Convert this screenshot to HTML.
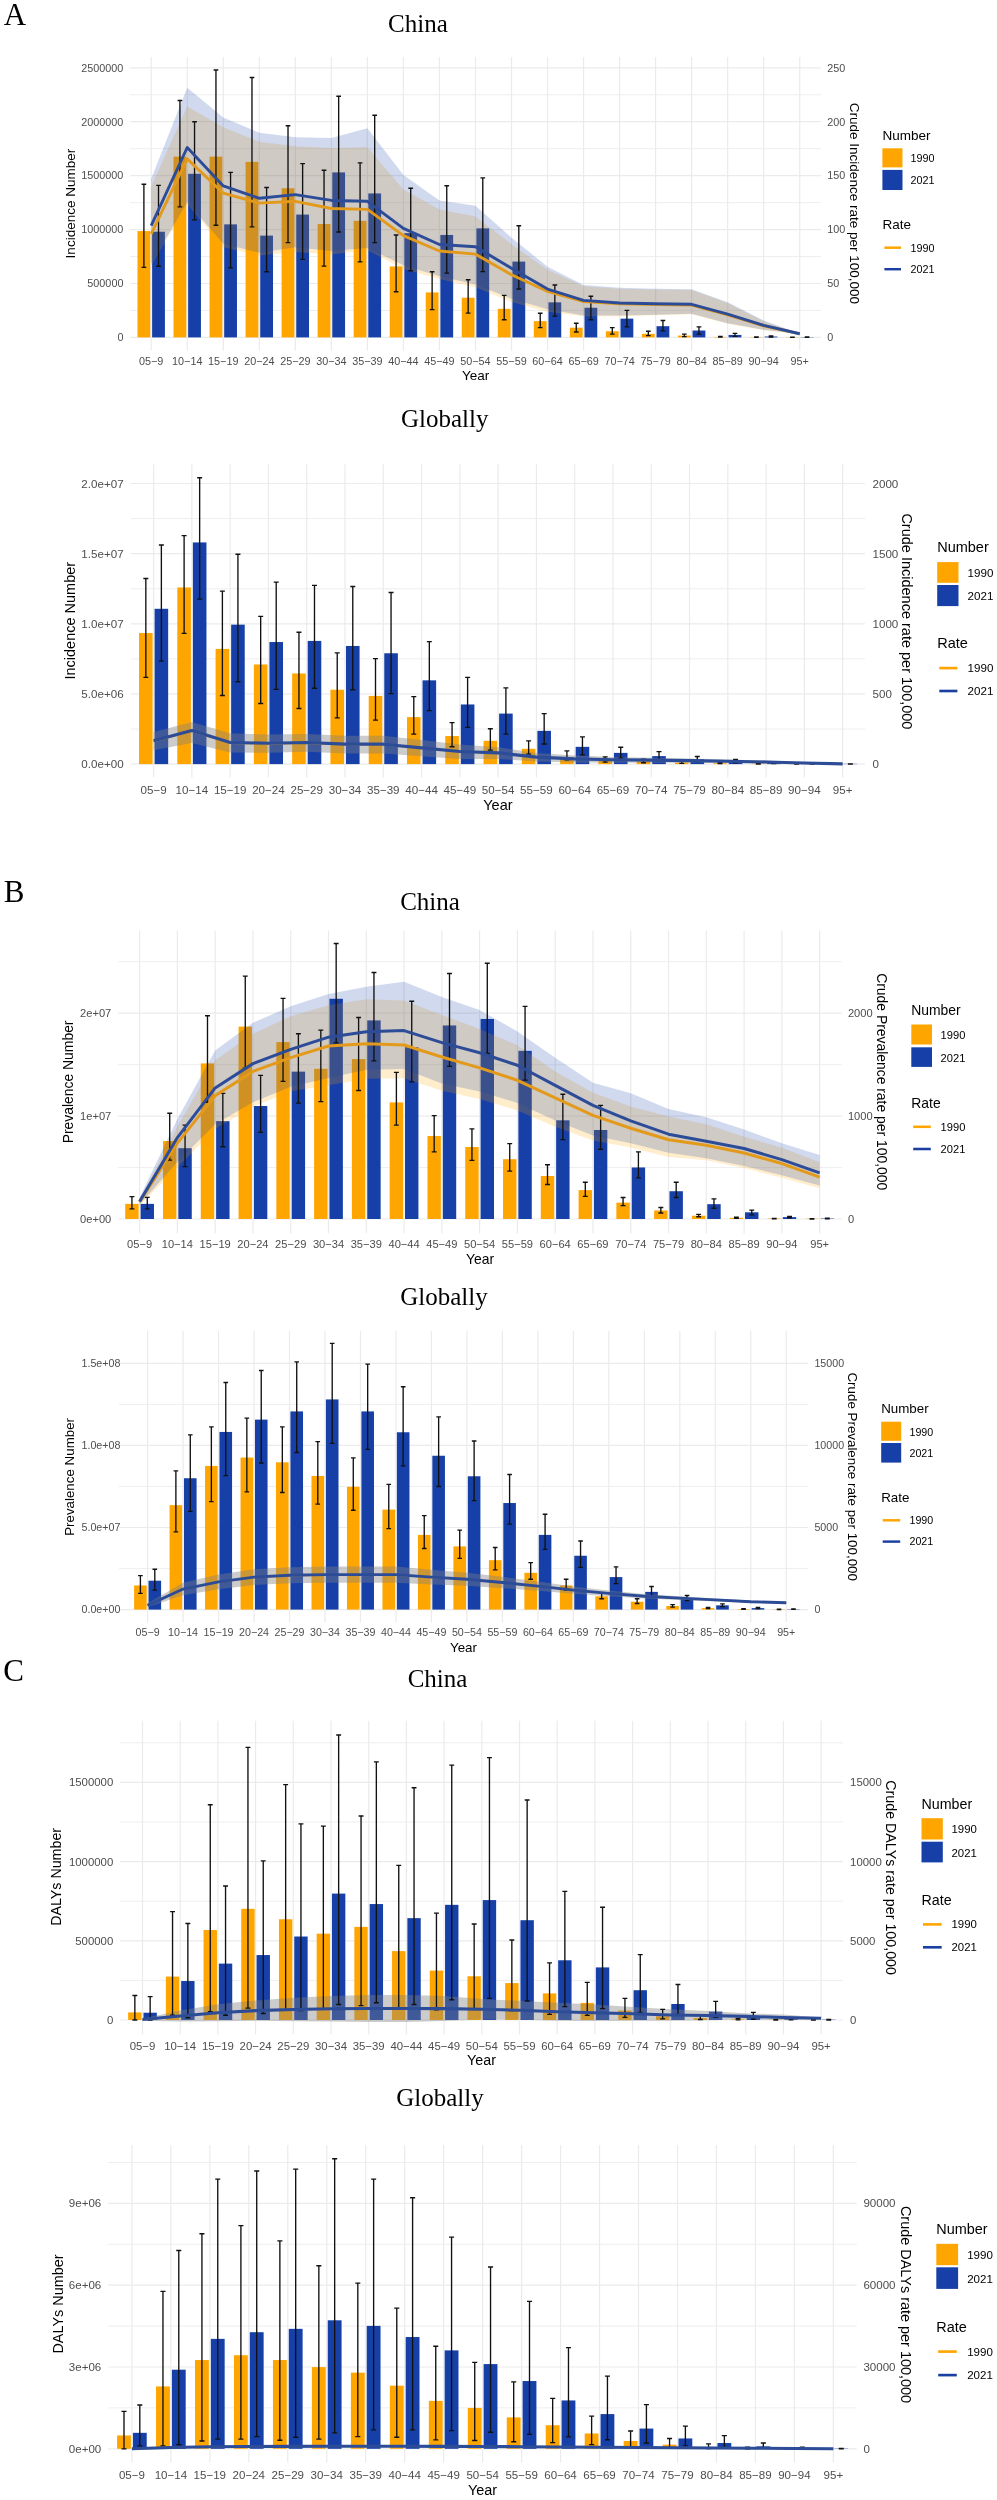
<!DOCTYPE html>
<html><head><meta charset="utf-8"><title>Figure</title>
<style>html,body{margin:0;padding:0;background:#fff;width:997px;height:2500px;overflow:hidden}
svg text{font-family:"Liberation Sans", sans-serif}
svg{filter:blur(0.3px)}</style></head>
<body>
<svg width="997" height="2500" viewBox="0 0 997 2500" style="display:block">
<rect width="997" height="2500" fill="#fff"/>
<g><line x1="130" y1="310.44" x2="821" y2="310.44" stroke="#EBEBEB" stroke-width="0.85"/>
<line x1="130" y1="256.52" x2="821" y2="256.52" stroke="#EBEBEB" stroke-width="0.85"/>
<line x1="130" y1="202.6" x2="821" y2="202.6" stroke="#EBEBEB" stroke-width="0.85"/>
<line x1="130" y1="148.68" x2="821" y2="148.68" stroke="#EBEBEB" stroke-width="0.85"/>
<line x1="130" y1="94.76" x2="821" y2="94.76" stroke="#EBEBEB" stroke-width="0.85"/>
<line x1="130" y1="337.4" x2="821" y2="337.4" stroke="#EBEBEB" stroke-width="1.2"/>
<line x1="130" y1="283.48" x2="821" y2="283.48" stroke="#EBEBEB" stroke-width="1.2"/>
<line x1="130" y1="229.56" x2="821" y2="229.56" stroke="#EBEBEB" stroke-width="1.2"/>
<line x1="130" y1="175.64" x2="821" y2="175.64" stroke="#EBEBEB" stroke-width="1.2"/>
<line x1="130" y1="121.72" x2="821" y2="121.72" stroke="#EBEBEB" stroke-width="1.2"/>
<line x1="130" y1="67.8" x2="821" y2="67.8" stroke="#EBEBEB" stroke-width="1.2"/>
<line x1="151.2" y1="57" x2="151.2" y2="350.5" stroke="#EBEBEB" stroke-width="1.2"/>
<line x1="187.23" y1="57" x2="187.23" y2="350.5" stroke="#EBEBEB" stroke-width="1.2"/>
<line x1="223.26" y1="57" x2="223.26" y2="350.5" stroke="#EBEBEB" stroke-width="1.2"/>
<line x1="259.29" y1="57" x2="259.29" y2="350.5" stroke="#EBEBEB" stroke-width="1.2"/>
<line x1="295.32" y1="57" x2="295.32" y2="350.5" stroke="#EBEBEB" stroke-width="1.2"/>
<line x1="331.35" y1="57" x2="331.35" y2="350.5" stroke="#EBEBEB" stroke-width="1.2"/>
<line x1="367.38" y1="57" x2="367.38" y2="350.5" stroke="#EBEBEB" stroke-width="1.2"/>
<line x1="403.41" y1="57" x2="403.41" y2="350.5" stroke="#EBEBEB" stroke-width="1.2"/>
<line x1="439.44" y1="57" x2="439.44" y2="350.5" stroke="#EBEBEB" stroke-width="1.2"/>
<line x1="475.47" y1="57" x2="475.47" y2="350.5" stroke="#EBEBEB" stroke-width="1.2"/>
<line x1="511.5" y1="57" x2="511.5" y2="350.5" stroke="#EBEBEB" stroke-width="1.2"/>
<line x1="547.53" y1="57" x2="547.53" y2="350.5" stroke="#EBEBEB" stroke-width="1.2"/>
<line x1="583.56" y1="57" x2="583.56" y2="350.5" stroke="#EBEBEB" stroke-width="1.2"/>
<line x1="619.59" y1="57" x2="619.59" y2="350.5" stroke="#EBEBEB" stroke-width="1.2"/>
<line x1="655.62" y1="57" x2="655.62" y2="350.5" stroke="#EBEBEB" stroke-width="1.2"/>
<line x1="691.65" y1="57" x2="691.65" y2="350.5" stroke="#EBEBEB" stroke-width="1.2"/>
<line x1="727.68" y1="57" x2="727.68" y2="350.5" stroke="#EBEBEB" stroke-width="1.2"/>
<line x1="763.71" y1="57" x2="763.71" y2="350.5" stroke="#EBEBEB" stroke-width="1.2"/>
<line x1="799.74" y1="57" x2="799.74" y2="350.5" stroke="#EBEBEB" stroke-width="1.2"/>
<rect x="137.49" y="231.07" width="12.79" height="106.33" fill="#FFA500"/>
<rect x="152.12" y="231.72" width="12.79" height="105.68" fill="#1640A8"/>
<rect x="173.52" y="156.66" width="12.79" height="180.74" fill="#FFA500"/>
<rect x="188.15" y="173.81" width="12.79" height="163.59" fill="#1640A8"/>
<rect x="209.55" y="156.66" width="12.79" height="180.74" fill="#FFA500"/>
<rect x="224.18" y="224.38" width="12.79" height="113.02" fill="#1640A8"/>
<rect x="245.58" y="161.84" width="12.79" height="175.56" fill="#FFA500"/>
<rect x="260.21" y="235.6" width="12.79" height="101.8" fill="#1640A8"/>
<rect x="281.61" y="188.26" width="12.79" height="149.14" fill="#FFA500"/>
<rect x="296.24" y="214.57" width="12.79" height="122.83" fill="#1640A8"/>
<rect x="317.64" y="224.06" width="12.79" height="113.34" fill="#FFA500"/>
<rect x="332.27" y="172.4" width="12.79" height="165" fill="#1640A8"/>
<rect x="353.67" y="220.82" width="12.79" height="116.58" fill="#FFA500"/>
<rect x="368.3" y="193.43" width="12.79" height="143.97" fill="#1640A8"/>
<rect x="389.7" y="266.44" width="12.79" height="70.96" fill="#FFA500"/>
<rect x="404.33" y="233.12" width="12.79" height="104.28" fill="#1640A8"/>
<rect x="425.73" y="292.43" width="12.79" height="44.97" fill="#FFA500"/>
<rect x="440.36" y="234.95" width="12.79" height="102.45" fill="#1640A8"/>
<rect x="461.76" y="297.71" width="12.79" height="39.69" fill="#FFA500"/>
<rect x="476.39" y="228.37" width="12.79" height="109.03" fill="#1640A8"/>
<rect x="497.79" y="308.82" width="12.79" height="28.58" fill="#FFA500"/>
<rect x="512.42" y="261.59" width="12.79" height="75.81" fill="#1640A8"/>
<rect x="533.82" y="321.12" width="12.79" height="16.28" fill="#FFA500"/>
<rect x="548.45" y="302.35" width="12.79" height="35.05" fill="#1640A8"/>
<rect x="569.85" y="327.69" width="12.79" height="9.71" fill="#FFA500"/>
<rect x="584.48" y="307.74" width="12.79" height="29.66" fill="#1640A8"/>
<rect x="605.88" y="331.25" width="12.79" height="6.15" fill="#FFA500"/>
<rect x="620.51" y="318.64" width="12.79" height="18.76" fill="#1640A8"/>
<rect x="641.91" y="333.84" width="12.79" height="3.56" fill="#FFA500"/>
<rect x="656.54" y="326.18" width="12.79" height="11.22" fill="#1640A8"/>
<rect x="677.94" y="335.57" width="12.79" height="1.83" fill="#FFA500"/>
<rect x="692.57" y="330.5" width="12.79" height="6.9" fill="#1640A8"/>
<rect x="713.97" y="336.97" width="12.79" height="0.43" fill="#FFA500"/>
<rect x="728.6" y="334.92" width="12.79" height="2.48" fill="#1640A8"/>
<rect x="750" y="337.1" width="12.79" height="0.3" fill="#FFA500"/>
<rect x="764.63" y="336.54" width="12.79" height="0.86" fill="#1640A8"/>
<rect x="786.03" y="337.1" width="12.79" height="0.3" fill="#FFA500"/>
<rect x="800.66" y="337.1" width="12.79" height="0.3" fill="#1640A8"/>
<path d="M151.2,186.42 L187.23,106.51 L223.26,127.33 L259.29,141.67 L295.32,146.31 L331.35,148.03 L367.38,147.17 L403.41,189.55 L439.44,209.39 L475.47,216.62 L511.5,244.23 L547.53,269.78 L583.56,286.18 L619.59,288.87 L655.62,289.41 L691.65,289.95 L727.68,303.11 L763.71,321.22 L799.74,333.73 L799.74,334.06 L763.71,330.17 L727.68,323.7 L691.65,314.21 L655.62,315.29 L619.59,316.16 L583.56,316.37 L547.53,311.63 L511.5,301.92 L475.47,287.15 L439.44,278.95 L403.41,269.03 L367.38,250.05 L331.35,254.58 L295.32,251.88 L259.29,255.55 L223.26,247.35 L187.23,204 L151.2,265.47Z" fill="#FFA500" fill-opacity="0.2"/>
<path d="M151.2,178.77 L187.23,87.64 L223.26,117.41 L259.29,132.72 L295.32,137.25 L331.35,138.11 L367.38,128.19 L403.41,175.1 L439.44,200.44 L475.47,205.84 L511.5,237.65 L547.53,266.66 L583.56,285.1 L619.59,287.79 L655.62,288.66 L691.65,289.2 L727.68,302.24 L763.71,320.47 L799.74,333.52 L799.74,333.95 L763.71,329.85 L727.68,323.27 L691.65,313.68 L655.62,314.75 L619.59,315.51 L583.56,315.51 L547.53,309.15 L511.5,298.69 L475.47,284.45 L439.44,276.15 L403.41,265.36 L367.38,247.89 L331.35,251.02 L295.32,247.35 L259.29,252.85 L223.26,243.79 L187.23,202.17 L151.2,263.64Z" fill="#1640A8" fill-opacity="0.2"/>
<path d="M143.89,184.27V267.3M141.54,184.27H146.23M141.54,267.3H146.23M158.51,185.35V266.23M156.17,185.35H160.86M156.17,266.23H160.86M179.92,100.48V206.91M177.57,100.48H182.26M177.57,206.91H182.26M194.54,121.72V219.85M192.2,121.72H196.89M192.2,219.85H196.89M215.95,69.96V225.25M213.6,69.96H218.29M213.6,225.25H218.29M230.57,172.4V267.84M228.23,172.4H232.92M228.23,267.84H232.92M251.98,77.51V226.86M249.63,77.51H254.32M249.63,226.86H254.32M266.6,187.5V271.73M264.26,187.5H268.95M264.26,271.73H268.95M288.01,125.71V242.61M285.66,125.71H290.35M285.66,242.61H290.35M302.63,163.67V259.43M300.29,163.67H304.98M300.29,259.43H304.98M324.04,170.25V266.12M321.69,170.25H326.38M321.69,266.12H326.38M338.66,96.27V232.04M336.32,96.27H341.01M336.32,232.04H341.01M360.07,162.91V261.91M357.72,162.91H362.41M357.72,261.91H362.41M374.69,115.25V242.61M372.35,115.25H377.04M372.35,242.61H377.04M396.1,234.95V291.78M393.75,234.95H398.44M393.75,291.78H398.44M410.72,188.26V270.75M408.38,188.26H413.07M408.38,270.75H413.07M432.13,271.73V309.69M429.78,271.73H434.47M429.78,309.69H434.47M446.75,185.78V273.13M444.41,185.78H449.1M444.41,273.13H449.1M468.16,279.71V313.14M465.81,279.71H470.5M465.81,313.14H470.5M482.78,177.8V271.62M480.44,177.8H485.13M480.44,271.62H485.13M504.19,295.34V319.71M501.84,295.34H506.53M501.84,319.71H506.53M518.81,225.79V288.98M516.47,225.79H521.16M516.47,288.98H521.16M540.22,313.24V327.69M537.87,313.24H542.56M537.87,327.69H542.56M554.84,284.99V316.05M552.5,284.99H557.19M552.5,316.05H557.19M576.25,323.27V332.01M573.9,323.27H578.59M573.9,332.01H578.59M590.87,296.21V319.71M588.53,296.21H593.22M588.53,319.71H593.22M612.28,327.69V334.16M609.93,327.69H614.62M609.93,334.16H614.62M626.9,310.33V326.94M624.56,310.33H629.25M624.56,326.94H629.25M648.31,331.25V335.57M645.96,331.25H650.65M645.96,335.57H650.65M662.93,320.47V330.93M660.59,320.47H665.28M660.59,330.93H665.28M684.34,334.16V336.65M681.99,334.16H686.68M681.99,336.65H686.68M698.96,326.94V334.16M696.62,326.94H701.31M696.62,334.16H701.31M720.37,336.54V337.18M718.02,336.54H722.71M718.02,337.18H722.71M734.99,333.41V336.32M732.65,333.41H737.34M732.65,336.32H737.34M756.4,336.97V337.29M754.05,336.97H758.74M754.05,337.29H758.74M771.02,335.89V336.97M768.68,335.89H773.37M768.68,336.97H773.37M792.43,337.18V337.35M790.08,337.18H794.77M790.08,337.35H794.77M807.05,336.97V337.29M804.71,336.97H809.4M804.71,337.29H809.4" stroke="#111" stroke-width="1.35" fill="none"/>
<path d="M151.2,233.77 L187.23,158.92 L223.26,193.22 L259.29,203.14 L295.32,201.31 L331.35,208.53 L367.38,209.39 L403.41,235.6 L439.44,251.02 L475.47,254.15 L511.5,274.74 L547.53,291.46 L583.56,301.49 L619.59,303.86 L655.62,304.51 L691.65,305.05 L727.68,314.75 L763.71,325.75 L799.74,333.84" stroke="#E39A1B" stroke-width="2.9" fill="none" stroke-linejoin="round"/>
<path d="M151.2,225.68 L187.23,147.49 L223.26,185.99 L259.29,198.29 L295.32,194.62 L331.35,200.44 L367.38,201.31 L403.41,228.37 L439.44,244.55 L475.47,246.81 L511.5,268.17 L547.53,289.09 L583.56,300.41 L619.59,303 L655.62,303.75 L691.65,304.29 L727.68,314.21 L763.71,325.43 L799.74,333.73" stroke="#2D4C98" stroke-width="2.9" fill="none" stroke-linejoin="round"/>
<text x="123.4" y="341.23" text-anchor="end" font-size="10.8" fill="#4D4D4D">0</text>
<text x="827.2" y="341.23" font-size="10.8" fill="#4D4D4D">0</text>
<text x="123.4" y="287.31" text-anchor="end" font-size="10.8" fill="#4D4D4D">500000</text>
<text x="827.2" y="287.31" font-size="10.8" fill="#4D4D4D">50</text>
<text x="123.4" y="233.39" text-anchor="end" font-size="10.8" fill="#4D4D4D">1000000</text>
<text x="827.2" y="233.39" font-size="10.8" fill="#4D4D4D">100</text>
<text x="123.4" y="179.47" text-anchor="end" font-size="10.8" fill="#4D4D4D">1500000</text>
<text x="827.2" y="179.47" font-size="10.8" fill="#4D4D4D">150</text>
<text x="123.4" y="125.55" text-anchor="end" font-size="10.8" fill="#4D4D4D">2000000</text>
<text x="827.2" y="125.55" font-size="10.8" fill="#4D4D4D">200</text>
<text x="123.4" y="71.63" text-anchor="end" font-size="10.8" fill="#4D4D4D">2500000</text>
<text x="827.2" y="71.63" font-size="10.8" fill="#4D4D4D">250</text>
<text x="151.2" y="365.03" text-anchor="middle" font-size="10.8" fill="#4D4D4D">05−9</text>
<text x="187.23" y="365.03" text-anchor="middle" font-size="10.8" fill="#4D4D4D">10−14</text>
<text x="223.26" y="365.03" text-anchor="middle" font-size="10.8" fill="#4D4D4D">15−19</text>
<text x="259.29" y="365.03" text-anchor="middle" font-size="10.8" fill="#4D4D4D">20−24</text>
<text x="295.32" y="365.03" text-anchor="middle" font-size="10.8" fill="#4D4D4D">25−29</text>
<text x="331.35" y="365.03" text-anchor="middle" font-size="10.8" fill="#4D4D4D">30−34</text>
<text x="367.38" y="365.03" text-anchor="middle" font-size="10.8" fill="#4D4D4D">35−39</text>
<text x="403.41" y="365.03" text-anchor="middle" font-size="10.8" fill="#4D4D4D">40−44</text>
<text x="439.44" y="365.03" text-anchor="middle" font-size="10.8" fill="#4D4D4D">45−49</text>
<text x="475.47" y="365.03" text-anchor="middle" font-size="10.8" fill="#4D4D4D">50−54</text>
<text x="511.5" y="365.03" text-anchor="middle" font-size="10.8" fill="#4D4D4D">55−59</text>
<text x="547.53" y="365.03" text-anchor="middle" font-size="10.8" fill="#4D4D4D">60−64</text>
<text x="583.56" y="365.03" text-anchor="middle" font-size="10.8" fill="#4D4D4D">65−69</text>
<text x="619.59" y="365.03" text-anchor="middle" font-size="10.8" fill="#4D4D4D">70−74</text>
<text x="655.62" y="365.03" text-anchor="middle" font-size="10.8" fill="#4D4D4D">75−79</text>
<text x="691.65" y="365.03" text-anchor="middle" font-size="10.8" fill="#4D4D4D">80−84</text>
<text x="727.68" y="365.03" text-anchor="middle" font-size="10.8" fill="#4D4D4D">85−89</text>
<text x="763.71" y="365.03" text-anchor="middle" font-size="10.8" fill="#4D4D4D">90−94</text>
<text x="799.74" y="365.03" text-anchor="middle" font-size="10.8" fill="#4D4D4D">95+</text>
<text x="475.6" y="380.29" text-anchor="middle" font-size="13.5" fill="#000">Year</text>
<text transform="translate(74.99,203.6) rotate(-90)" text-anchor="middle" font-size="13.5" fill="#000">Incidence Number</text>
<text transform="translate(849.51,203.4) rotate(90)" text-anchor="middle" font-size="13.5" fill="#000">Crude Incidence rate per 100,000</text>
<text x="388.1" y="31.6" style='font-family:"Liberation Serif", serif' font-size="25" fill="#000">China</text>
<text x="882.4" y="139.59" font-size="13.5" fill="#000">Number</text>
<rect x="882.4" y="148.3" width="20.1" height="19.1" fill="#FFA500"/>
<rect x="882.4" y="169.9" width="20.1" height="20.1" fill="#1640A8"/>
<text x="910.5" y="161.73" font-size="10.8" fill="#000">1990</text>
<text x="910.5" y="183.83" font-size="10.8" fill="#000">2021</text>
<text x="882.4" y="229.19" font-size="13.5" fill="#000">Rate</text>
<line x1="884.4" y1="247.7" x2="901" y2="247.7" stroke="#FFA500" stroke-width="2.46"/>
<line x1="884.4" y1="269.2" x2="901" y2="269.2" stroke="#1A3FA0" stroke-width="2.46"/>
<text x="910.5" y="251.53" font-size="10.8" fill="#000">1990</text>
<text x="910.5" y="273.03" font-size="10.8" fill="#000">2021</text></g>
<g><line x1="130.8" y1="729.02" x2="865" y2="729.02" stroke="#EBEBEB" stroke-width="0.85"/>
<line x1="130.8" y1="658.88" x2="865" y2="658.88" stroke="#EBEBEB" stroke-width="0.85"/>
<line x1="130.8" y1="588.73" x2="865" y2="588.73" stroke="#EBEBEB" stroke-width="0.85"/>
<line x1="130.8" y1="518.58" x2="865" y2="518.58" stroke="#EBEBEB" stroke-width="0.85"/>
<line x1="130.8" y1="764.1" x2="865" y2="764.1" stroke="#EBEBEB" stroke-width="1.2"/>
<line x1="130.8" y1="693.95" x2="865" y2="693.95" stroke="#EBEBEB" stroke-width="1.2"/>
<line x1="130.8" y1="623.8" x2="865" y2="623.8" stroke="#EBEBEB" stroke-width="1.2"/>
<line x1="130.8" y1="553.65" x2="865" y2="553.65" stroke="#EBEBEB" stroke-width="1.2"/>
<line x1="130.8" y1="483.5" x2="865" y2="483.5" stroke="#EBEBEB" stroke-width="1.2"/>
<line x1="153.6" y1="464.2" x2="153.6" y2="777.6" stroke="#EBEBEB" stroke-width="1.2"/>
<line x1="191.88" y1="464.2" x2="191.88" y2="777.6" stroke="#EBEBEB" stroke-width="1.2"/>
<line x1="230.16" y1="464.2" x2="230.16" y2="777.6" stroke="#EBEBEB" stroke-width="1.2"/>
<line x1="268.44" y1="464.2" x2="268.44" y2="777.6" stroke="#EBEBEB" stroke-width="1.2"/>
<line x1="306.72" y1="464.2" x2="306.72" y2="777.6" stroke="#EBEBEB" stroke-width="1.2"/>
<line x1="345" y1="464.2" x2="345" y2="777.6" stroke="#EBEBEB" stroke-width="1.2"/>
<line x1="383.28" y1="464.2" x2="383.28" y2="777.6" stroke="#EBEBEB" stroke-width="1.2"/>
<line x1="421.56" y1="464.2" x2="421.56" y2="777.6" stroke="#EBEBEB" stroke-width="1.2"/>
<line x1="459.84" y1="464.2" x2="459.84" y2="777.6" stroke="#EBEBEB" stroke-width="1.2"/>
<line x1="498.12" y1="464.2" x2="498.12" y2="777.6" stroke="#EBEBEB" stroke-width="1.2"/>
<line x1="536.4" y1="464.2" x2="536.4" y2="777.6" stroke="#EBEBEB" stroke-width="1.2"/>
<line x1="574.68" y1="464.2" x2="574.68" y2="777.6" stroke="#EBEBEB" stroke-width="1.2"/>
<line x1="612.96" y1="464.2" x2="612.96" y2="777.6" stroke="#EBEBEB" stroke-width="1.2"/>
<line x1="651.24" y1="464.2" x2="651.24" y2="777.6" stroke="#EBEBEB" stroke-width="1.2"/>
<line x1="689.52" y1="464.2" x2="689.52" y2="777.6" stroke="#EBEBEB" stroke-width="1.2"/>
<line x1="727.8" y1="464.2" x2="727.8" y2="777.6" stroke="#EBEBEB" stroke-width="1.2"/>
<line x1="766.08" y1="464.2" x2="766.08" y2="777.6" stroke="#EBEBEB" stroke-width="1.2"/>
<line x1="804.36" y1="464.2" x2="804.36" y2="777.6" stroke="#EBEBEB" stroke-width="1.2"/>
<line x1="842.64" y1="464.2" x2="842.64" y2="777.6" stroke="#EBEBEB" stroke-width="1.2"/>
<rect x="139.03" y="633.06" width="13.59" height="131.04" fill="#FFA500"/>
<rect x="154.58" y="608.79" width="13.59" height="155.31" fill="#1640A8"/>
<rect x="177.31" y="587.46" width="13.59" height="176.64" fill="#FFA500"/>
<rect x="192.86" y="542.43" width="13.59" height="221.67" fill="#1640A8"/>
<rect x="215.59" y="648.91" width="13.59" height="115.19" fill="#FFA500"/>
<rect x="231.14" y="624.64" width="13.59" height="139.46" fill="#1640A8"/>
<rect x="253.87" y="664.49" width="13.59" height="99.61" fill="#FFA500"/>
<rect x="269.42" y="642.04" width="13.59" height="122.06" fill="#1640A8"/>
<rect x="292.15" y="673.47" width="13.59" height="90.63" fill="#FFA500"/>
<rect x="307.7" y="640.92" width="13.59" height="123.18" fill="#1640A8"/>
<rect x="330.43" y="689.74" width="13.59" height="74.36" fill="#FFA500"/>
<rect x="345.98" y="645.97" width="13.59" height="118.13" fill="#1640A8"/>
<rect x="368.71" y="695.91" width="13.59" height="68.19" fill="#FFA500"/>
<rect x="384.26" y="653.26" width="13.59" height="110.84" fill="#1640A8"/>
<rect x="406.99" y="717.1" width="13.59" height="47" fill="#FFA500"/>
<rect x="422.54" y="680.34" width="13.59" height="83.76" fill="#1640A8"/>
<rect x="445.27" y="736.04" width="13.59" height="28.06" fill="#FFA500"/>
<rect x="460.82" y="704.47" width="13.59" height="59.63" fill="#1640A8"/>
<rect x="483.55" y="740.81" width="13.59" height="23.29" fill="#FFA500"/>
<rect x="499.1" y="713.59" width="13.59" height="50.51" fill="#1640A8"/>
<rect x="521.83" y="748.81" width="13.59" height="15.29" fill="#FFA500"/>
<rect x="537.38" y="730.85" width="13.59" height="33.25" fill="#1640A8"/>
<rect x="560.11" y="756.94" width="13.59" height="7.16" fill="#FFA500"/>
<rect x="575.66" y="746.84" width="13.59" height="17.26" fill="#1640A8"/>
<rect x="598.39" y="759.75" width="13.59" height="4.35" fill="#FFA500"/>
<rect x="613.94" y="752.88" width="13.59" height="11.22" fill="#1640A8"/>
<rect x="636.67" y="761.29" width="13.59" height="2.81" fill="#FFA500"/>
<rect x="652.22" y="756.1" width="13.59" height="8" fill="#1640A8"/>
<rect x="674.95" y="762.56" width="13.59" height="1.54" fill="#FFA500"/>
<rect x="690.5" y="759.33" width="13.59" height="4.77" fill="#1640A8"/>
<rect x="713.23" y="763.26" width="13.59" height="0.84" fill="#FFA500"/>
<rect x="728.78" y="761.29" width="13.59" height="2.81" fill="#1640A8"/>
<rect x="751.51" y="763.68" width="13.59" height="0.42" fill="#FFA500"/>
<rect x="767.06" y="762.84" width="13.59" height="1.26" fill="#1640A8"/>
<rect x="789.79" y="763.8" width="13.59" height="0.3" fill="#FFA500"/>
<rect x="805.34" y="763.68" width="13.59" height="0.42" fill="#1640A8"/>
<rect x="828.07" y="763.8" width="13.59" height="0.3" fill="#FFA500"/>
<rect x="843.62" y="763.8" width="13.59" height="0.3" fill="#1640A8"/>
<path d="M153.6,731.97 L191.88,722.01 L230.16,733.37 L268.44,734.5 L306.72,734.08 L345,735.76 L383.28,735.76 L421.56,740.11 L459.84,744.46 L498.12,747.26 L536.4,752.88 L574.68,755.4 L612.96,756.94 L651.24,757.65 L689.52,758.49 L727.8,759.61 L766.08,760.59 L804.36,762.14 L842.64,763.54 L842.64,764.1 L804.36,763.86 L766.08,763.48 L727.8,763.09 L689.52,762.84 L651.24,762.85 L612.96,762.73 L574.68,762.62 L536.4,761.57 L498.12,758.94 L459.84,758.99 L421.56,756.19 L383.28,753.39 L345,753.39 L306.72,751.78 L268.44,752.73 L230.16,752.48 L191.88,743.06 L153.6,750.31Z" fill="#808080" fill-opacity="0.4"/>
<path d="M145.83,578.48V677.39M143.34,578.48H148.32M143.34,677.39H148.32M161.37,544.95V661.12M158.88,544.95H163.86M158.88,661.12H163.86M184.11,535.55V633.34M181.62,535.55H186.6M181.62,633.34H186.6M199.65,477.75V599.11M197.16,477.75H202.14M197.16,599.11H202.14M222.39,591.11V695.49M219.9,591.11H224.88M219.9,695.49H224.88M237.93,554.21V681.74M235.44,554.21H240.42M235.44,681.74H240.42M260.67,616.36V703.49M258.18,616.36H263.16M258.18,703.49H263.16M276.21,582.13V689.32M273.72,582.13H278.7M273.72,689.32H278.7M298.95,632.22V708.54M296.46,632.22H301.44M296.46,708.54H301.44M314.49,585.36V688.2M312,585.36H316.98M312,688.2H316.98M337.23,652.84V717.94M334.74,652.84H339.72M334.74,717.94H339.72M352.77,586.48V689.74M350.28,586.48H355.26M350.28,689.74H355.26M375.51,658.59V720.05M373.02,658.59H378M373.02,720.05H378M391.05,592.51V693.67M388.56,592.51H393.54M388.56,693.67H393.54M413.79,696.62V734.08M411.3,696.62H416.28M411.3,734.08H416.28M429.33,641.62V710.65M426.84,641.62H431.82M426.84,710.65H431.82M452.07,722.57V746.7M449.58,722.57H454.56M449.58,746.7H454.56M467.61,677.39V727.34M465.12,677.39H470.1M465.12,727.34H470.1M490.35,728.74V750.07M487.86,728.74H492.84M487.86,750.07H492.84M505.89,687.92V734.08M503.4,687.92H508.38M503.4,734.08H508.38M528.63,740.81V754.14M526.14,740.81H531.12M526.14,754.14H531.12M544.17,713.59V744.04M541.68,713.59H546.66M541.68,744.04H546.66M566.91,750.91V759.75M564.42,750.91H569.4M564.42,759.75H569.4M582.45,736.88V754.84M579.96,736.88H584.94M579.96,754.84H584.94M605.19,756.94V762.14M602.7,756.94H607.68M602.7,762.14H607.68M620.73,747.26V758.07M618.24,747.26H623.22M618.24,758.07H623.22M643.47,759.19V762.7M640.98,759.19H645.96M640.98,762.7H645.96M659.01,751.61V759.75M656.52,751.61H661.5M656.52,759.75H661.5M681.75,761.29V763.4M679.26,761.29H684.24M679.26,763.4H684.24M697.29,756.52V761.57M694.8,756.52H699.78M694.8,761.57H699.78M720.03,762.7V763.68M717.54,762.7H722.52M717.54,763.68H722.52M735.57,759.33V762.7M733.08,759.33H738.06M733.08,762.7H738.06M758.31,763.4V763.96M755.82,763.4H760.8M755.82,763.96H760.8M773.85,762V763.54M771.36,762H776.34M771.36,763.54H776.34M796.59,763.82V764.03M794.1,763.82H799.08M794.1,764.03H799.08M812.13,763.26V763.96M809.64,763.26H814.62M809.64,763.96H814.62M834.87,763.96V764.07M832.38,763.96H837.36M832.38,764.07H837.36M850.41,763.82V764.03M847.92,763.82H852.9M847.92,764.03H852.9" stroke="#111" stroke-width="1.35" fill="none"/>
<path d="M153.6,741.61 L191.88,731.55 L230.16,743.36 L268.44,744.03 L306.72,743.36 L345,744.97 L383.28,744.97 L421.56,748.48 L459.84,751.98 L498.12,753.32 L536.4,757.37 L574.68,759.12 L612.96,759.92 L651.24,760.33 L689.52,760.73 L727.8,761.41 L766.08,762.08 L804.36,763.02 L842.64,763.83" stroke="#E39A1B" stroke-width="1.2" fill="none" stroke-linejoin="round"/>
<path d="M153.6,740.67 L191.88,730.57 L230.16,742.49 L268.44,743.2 L306.72,742.49 L345,744.18 L383.28,744.18 L421.56,747.83 L459.84,751.47 L498.12,752.88 L536.4,757.09 L574.68,758.91 L612.96,759.75 L651.24,760.17 L689.52,760.59 L727.8,761.29 L766.08,762 L804.36,762.98 L842.64,763.82" stroke="#2D4C98" stroke-width="3.1148148148148147" fill="none" stroke-linejoin="round"/>
<text x="123.6" y="768.22" text-anchor="end" font-size="11.6" fill="#4D4D4D">0.0e+00</text>
<text x="872.5" y="768.22" font-size="11.6" fill="#4D4D4D">0</text>
<text x="123.6" y="698.07" text-anchor="end" font-size="11.6" fill="#4D4D4D">5.0e+06</text>
<text x="872.5" y="698.07" font-size="11.6" fill="#4D4D4D">500</text>
<text x="123.6" y="627.92" text-anchor="end" font-size="11.6" fill="#4D4D4D">1.0e+07</text>
<text x="872.5" y="627.92" font-size="11.6" fill="#4D4D4D">1000</text>
<text x="123.6" y="557.77" text-anchor="end" font-size="11.6" fill="#4D4D4D">1.5e+07</text>
<text x="872.5" y="557.77" font-size="11.6" fill="#4D4D4D">1500</text>
<text x="123.6" y="487.62" text-anchor="end" font-size="11.6" fill="#4D4D4D">2.0e+07</text>
<text x="872.5" y="487.62" font-size="11.6" fill="#4D4D4D">2000</text>
<text x="153.6" y="793.72" text-anchor="middle" font-size="11.6" fill="#4D4D4D">05−9</text>
<text x="191.88" y="793.72" text-anchor="middle" font-size="11.6" fill="#4D4D4D">10−14</text>
<text x="230.16" y="793.72" text-anchor="middle" font-size="11.6" fill="#4D4D4D">15−19</text>
<text x="268.44" y="793.72" text-anchor="middle" font-size="11.6" fill="#4D4D4D">20−24</text>
<text x="306.72" y="793.72" text-anchor="middle" font-size="11.6" fill="#4D4D4D">25−29</text>
<text x="345" y="793.72" text-anchor="middle" font-size="11.6" fill="#4D4D4D">30−34</text>
<text x="383.28" y="793.72" text-anchor="middle" font-size="11.6" fill="#4D4D4D">35−39</text>
<text x="421.56" y="793.72" text-anchor="middle" font-size="11.6" fill="#4D4D4D">40−44</text>
<text x="459.84" y="793.72" text-anchor="middle" font-size="11.6" fill="#4D4D4D">45−49</text>
<text x="498.12" y="793.72" text-anchor="middle" font-size="11.6" fill="#4D4D4D">50−54</text>
<text x="536.4" y="793.72" text-anchor="middle" font-size="11.6" fill="#4D4D4D">55−59</text>
<text x="574.68" y="793.72" text-anchor="middle" font-size="11.6" fill="#4D4D4D">60−64</text>
<text x="612.96" y="793.72" text-anchor="middle" font-size="11.6" fill="#4D4D4D">65−69</text>
<text x="651.24" y="793.72" text-anchor="middle" font-size="11.6" fill="#4D4D4D">70−74</text>
<text x="689.52" y="793.72" text-anchor="middle" font-size="11.6" fill="#4D4D4D">75−79</text>
<text x="727.8" y="793.72" text-anchor="middle" font-size="11.6" fill="#4D4D4D">80−84</text>
<text x="766.08" y="793.72" text-anchor="middle" font-size="11.6" fill="#4D4D4D">85−89</text>
<text x="804.36" y="793.72" text-anchor="middle" font-size="11.6" fill="#4D4D4D">90−94</text>
<text x="842.64" y="793.72" text-anchor="middle" font-size="11.6" fill="#4D4D4D">95+</text>
<text x="497.9" y="809.65" text-anchor="middle" font-size="14.5" fill="#000">Year</text>
<text transform="translate(75.35,620.7) rotate(-90)" text-anchor="middle" font-size="14.5" fill="#000">Incidence Number</text>
<text transform="translate(902.15,621.4) rotate(90)" text-anchor="middle" font-size="14.5" fill="#000">Crude Incidence rate per 100,000</text>
<text x="401" y="426.7" style='font-family:"Liberation Serif", serif' font-size="25" fill="#000">Globally</text>
<text x="937.2" y="552.45" font-size="14.5" fill="#000">Number</text>
<rect x="937.2" y="562.1" width="21.3" height="20.7" fill="#FFA500"/>
<rect x="937.2" y="585" width="21.3" height="21.1" fill="#1640A8"/>
<text x="967.6" y="577.12" font-size="11.6" fill="#000">1990</text>
<text x="967.6" y="599.92" font-size="11.6" fill="#000">2021</text>
<text x="937.2" y="648.25" font-size="14.5" fill="#000">Rate</text>
<line x1="939.3" y1="668.1" x2="957.4" y2="668.1" stroke="#FFA500" stroke-width="2.65"/>
<line x1="939.3" y1="691" x2="957.4" y2="691" stroke="#1A3FA0" stroke-width="2.65"/>
<text x="967.6" y="672.22" font-size="11.6" fill="#000">1990</text>
<text x="967.6" y="695.12" font-size="11.6" fill="#000">2021</text></g>
<g><line x1="117.9" y1="1167.55" x2="842" y2="1167.55" stroke="#EBEBEB" stroke-width="0.85"/>
<line x1="117.9" y1="1064.65" x2="842" y2="1064.65" stroke="#EBEBEB" stroke-width="0.85"/>
<line x1="117.9" y1="961.75" x2="842" y2="961.75" stroke="#EBEBEB" stroke-width="0.85"/>
<line x1="117.9" y1="1219" x2="842" y2="1219" stroke="#EBEBEB" stroke-width="1.2"/>
<line x1="117.9" y1="1116.1" x2="842" y2="1116.1" stroke="#EBEBEB" stroke-width="1.2"/>
<line x1="117.9" y1="1013.2" x2="842" y2="1013.2" stroke="#EBEBEB" stroke-width="1.2"/>
<line x1="139.6" y1="930.5" x2="139.6" y2="1233.5" stroke="#EBEBEB" stroke-width="1.2"/>
<line x1="177.38" y1="930.5" x2="177.38" y2="1233.5" stroke="#EBEBEB" stroke-width="1.2"/>
<line x1="215.16" y1="930.5" x2="215.16" y2="1233.5" stroke="#EBEBEB" stroke-width="1.2"/>
<line x1="252.94" y1="930.5" x2="252.94" y2="1233.5" stroke="#EBEBEB" stroke-width="1.2"/>
<line x1="290.72" y1="930.5" x2="290.72" y2="1233.5" stroke="#EBEBEB" stroke-width="1.2"/>
<line x1="328.5" y1="930.5" x2="328.5" y2="1233.5" stroke="#EBEBEB" stroke-width="1.2"/>
<line x1="366.28" y1="930.5" x2="366.28" y2="1233.5" stroke="#EBEBEB" stroke-width="1.2"/>
<line x1="404.06" y1="930.5" x2="404.06" y2="1233.5" stroke="#EBEBEB" stroke-width="1.2"/>
<line x1="441.84" y1="930.5" x2="441.84" y2="1233.5" stroke="#EBEBEB" stroke-width="1.2"/>
<line x1="479.62" y1="930.5" x2="479.62" y2="1233.5" stroke="#EBEBEB" stroke-width="1.2"/>
<line x1="517.4" y1="930.5" x2="517.4" y2="1233.5" stroke="#EBEBEB" stroke-width="1.2"/>
<line x1="555.18" y1="930.5" x2="555.18" y2="1233.5" stroke="#EBEBEB" stroke-width="1.2"/>
<line x1="592.96" y1="930.5" x2="592.96" y2="1233.5" stroke="#EBEBEB" stroke-width="1.2"/>
<line x1="630.74" y1="930.5" x2="630.74" y2="1233.5" stroke="#EBEBEB" stroke-width="1.2"/>
<line x1="668.52" y1="930.5" x2="668.52" y2="1233.5" stroke="#EBEBEB" stroke-width="1.2"/>
<line x1="706.3" y1="930.5" x2="706.3" y2="1233.5" stroke="#EBEBEB" stroke-width="1.2"/>
<line x1="744.08" y1="930.5" x2="744.08" y2="1233.5" stroke="#EBEBEB" stroke-width="1.2"/>
<line x1="781.86" y1="930.5" x2="781.86" y2="1233.5" stroke="#EBEBEB" stroke-width="1.2"/>
<line x1="819.64" y1="930.5" x2="819.64" y2="1233.5" stroke="#EBEBEB" stroke-width="1.2"/>
<rect x="125.22" y="1203.87" width="13.41" height="15.13" fill="#FFA500"/>
<rect x="140.56" y="1203.87" width="13.41" height="15.13" fill="#1640A8"/>
<rect x="163" y="1141" width="13.41" height="78" fill="#FFA500"/>
<rect x="178.34" y="1148.2" width="13.41" height="70.8" fill="#1640A8"/>
<rect x="200.78" y="1063.42" width="13.41" height="155.58" fill="#FFA500"/>
<rect x="216.12" y="1121.14" width="13.41" height="97.86" fill="#1640A8"/>
<rect x="238.56" y="1026.58" width="13.41" height="192.42" fill="#FFA500"/>
<rect x="253.9" y="1106.02" width="13.41" height="112.98" fill="#1640A8"/>
<rect x="276.34" y="1042.11" width="13.41" height="176.89" fill="#FFA500"/>
<rect x="291.68" y="1071.65" width="13.41" height="147.35" fill="#1640A8"/>
<rect x="314.12" y="1068.77" width="13.41" height="150.23" fill="#FFA500"/>
<rect x="329.46" y="998.79" width="13.41" height="220.21" fill="#1640A8"/>
<rect x="351.9" y="1059.09" width="13.41" height="159.91" fill="#FFA500"/>
<rect x="367.24" y="1020.4" width="13.41" height="198.6" fill="#1640A8"/>
<rect x="389.68" y="1102.41" width="13.41" height="116.59" fill="#FFA500"/>
<rect x="405.02" y="1047.16" width="13.41" height="171.84" fill="#1640A8"/>
<rect x="427.46" y="1135.96" width="13.41" height="83.04" fill="#FFA500"/>
<rect x="442.8" y="1025.45" width="13.41" height="193.55" fill="#1640A8"/>
<rect x="465.24" y="1146.97" width="13.41" height="72.03" fill="#FFA500"/>
<rect x="480.58" y="1018.96" width="13.41" height="200.04" fill="#1640A8"/>
<rect x="503.02" y="1159.22" width="13.41" height="59.78" fill="#FFA500"/>
<rect x="518.36" y="1050.86" width="13.41" height="168.14" fill="#1640A8"/>
<rect x="540.8" y="1175.99" width="13.41" height="43.01" fill="#FFA500"/>
<rect x="556.14" y="1120.32" width="13.41" height="98.68" fill="#1640A8"/>
<rect x="578.58" y="1190.09" width="13.41" height="28.91" fill="#FFA500"/>
<rect x="593.92" y="1129.99" width="13.41" height="89.01" fill="#1640A8"/>
<rect x="616.36" y="1202.64" width="13.41" height="16.36" fill="#FFA500"/>
<rect x="631.7" y="1167.45" width="13.41" height="51.55" fill="#1640A8"/>
<rect x="654.14" y="1210.46" width="13.41" height="8.54" fill="#FFA500"/>
<rect x="669.48" y="1191.22" width="13.41" height="27.78" fill="#1640A8"/>
<rect x="691.92" y="1215.71" width="13.41" height="3.29" fill="#FFA500"/>
<rect x="707.26" y="1204.18" width="13.41" height="14.82" fill="#1640A8"/>
<rect x="729.7" y="1217.87" width="13.41" height="1.13" fill="#FFA500"/>
<rect x="745.04" y="1212.31" width="13.41" height="6.69" fill="#1640A8"/>
<rect x="767.48" y="1218.59" width="13.41" height="0.41" fill="#FFA500"/>
<rect x="782.82" y="1217.15" width="13.41" height="1.85" fill="#1640A8"/>
<rect x="805.26" y="1218.7" width="13.41" height="0.3" fill="#FFA500"/>
<rect x="820.6" y="1218.59" width="13.41" height="0.41" fill="#1640A8"/>
<path d="M139.6,1199.45 L177.38,1126.8 L215.16,1060.33 L252.94,1033.78 L290.72,1016.18 L328.5,1005.17 L366.28,999.31 L404.06,1000.54 L441.84,1014.95 L479.62,1028.94 L517.4,1045.2 L555.18,1071.54 L592.96,1092.84 L630.74,1106.53 L668.52,1116.51 L706.3,1124.33 L744.08,1136.68 L781.86,1147.79 L819.64,1162.2 L819.64,1188.23 L781.86,1177.84 L744.08,1168.06 L706.3,1160.24 L668.52,1157.05 L630.74,1147.38 L592.96,1140.49 L555.18,1126.7 L517.4,1110.44 L479.62,1099.12 L441.84,1090.68 L404.06,1078.13 L366.28,1078.75 L328.5,1085.23 L290.72,1091.2 L252.94,1106.74 L215.16,1128.65 L177.38,1167.55 L139.6,1205.62Z" fill="#FFA500" fill-opacity="0.2"/>
<path d="M139.6,1197.39 L177.38,1119.08 L215.16,1050.45 L252.94,1022.77 L290.72,1006.31 L328.5,994.06 L366.28,986.65 L404.06,981.82 L441.84,996.94 L479.62,1010.11 L517.4,1031.41 L555.18,1057.76 L592.96,1082.86 L630.74,1093.26 L668.52,1108.9 L706.3,1117.23 L744.08,1129.58 L781.86,1143.27 L819.64,1155 L819.64,1185.56 L781.86,1175.16 L744.08,1166.11 L706.3,1158.19 L668.52,1152.63 L630.74,1143.37 L592.96,1135.55 L555.18,1120.42 L517.4,1102.93 L479.62,1091.61 L441.84,1083.48 L404.06,1069.07 L366.28,1069.69 L328.5,1078.03 L290.72,1086.77 L252.94,1102.31 L215.16,1124.33 L177.38,1162.1 L139.6,1204.59Z" fill="#1640A8" fill-opacity="0.2"/>
<path d="M131.93,1196.57V1208.92M129.47,1196.57H134.39M129.47,1208.92H134.39M147.27,1197.39V1208.92M144.81,1197.39H149.73M144.81,1208.92H149.73M169.71,1113.22V1160.14M167.25,1113.22H172.17M167.25,1160.14H172.17M185.05,1125.16V1166.62M182.59,1125.16H187.51M182.59,1166.62H187.51M207.49,1015.77V1102.41M205.03,1015.77H209.95M205.03,1102.41H209.95M222.83,1093.36V1146.76M220.37,1093.36H225.29M220.37,1146.76H225.29M245.27,976.05V1068.05M242.81,976.05H247.73M242.81,1068.05H247.73M260.61,1075.35V1132.36M258.15,1075.35H263.07M258.15,1132.36H263.07M283.05,998.38V1081.42M280.59,998.38H285.51M280.59,1081.42H285.51M298.39,1033.78V1103.13M295.93,1033.78H300.85M295.93,1103.13H300.85M320.83,1030.18V1101.69M318.37,1030.18H323.29M318.37,1101.69H323.29M336.17,943.54V1042.84M333.71,943.54H338.63M333.71,1042.84H338.63M358.61,1017.52V1090.48M356.15,1017.52H361.07M356.15,1090.48H361.07M373.95,972.45V1060.84M371.49,972.45H376.41M371.49,1060.84H376.41M396.39,1072.37V1125.16M393.93,1072.37H398.85M393.93,1125.16H398.85M411.73,1001.26V1081.83M409.27,1001.26H414.19M409.27,1081.83H414.19M434.17,1115.69V1151.81M431.71,1115.69H436.63M431.71,1151.81H436.63M449.51,973.48V1066.3M447.05,973.48H451.97M447.05,1066.3H451.97M471.95,1128.86V1160.35M469.49,1128.86H474.41M469.49,1160.35H474.41M487.29,963.29V1053.54M484.83,963.29H489.75M484.83,1053.54H489.75M509.73,1143.68V1171.15M507.27,1143.68H512.19M507.27,1171.15H512.19M525.07,1006.41V1080.19M522.61,1006.41H527.53M522.61,1080.19H527.53M547.51,1164.77V1184.53M545.05,1164.77H549.97M545.05,1184.53H549.97M562.85,1094.29V1139.56M560.39,1094.29H565.31M560.39,1139.56H565.31M585.29,1182.26V1196.36M582.83,1182.26H587.75M582.83,1196.36H587.75M600.63,1105.4V1149.23M598.17,1105.4H603.09M598.17,1149.23H603.09M623.07,1197.49V1205.62M620.61,1197.49H625.53M620.61,1205.62H625.53M638.41,1151.81V1177.84M635.95,1151.81H640.87M635.95,1177.84H640.87M660.85,1207.48V1213.03M658.39,1207.48H663.31M658.39,1213.03H663.31M676.19,1182.26V1197.49M673.73,1182.26H678.65M673.73,1197.49H678.65M698.63,1214.37V1216.74M696.17,1214.37H701.09M696.17,1216.74H701.09M713.97,1198.93V1208.2M711.51,1198.93H716.43M711.51,1208.2H716.43M736.41,1217.25V1218.28M733.95,1217.25H738.87M733.95,1218.28H738.87M751.75,1210.05V1214.88M749.29,1210.05H754.21M749.29,1214.88H754.21M774.19,1218.38V1218.79M771.73,1218.38H776.65M771.73,1218.79H776.65M789.53,1216.32V1217.77M787.07,1216.32H791.99M787.07,1217.77H791.99M811.97,1218.79V1218.95M809.51,1218.79H814.43M809.51,1218.95H814.43M827.31,1218.28V1218.79M824.85,1218.28H829.77M824.85,1218.79H829.77" stroke="#111" stroke-width="1.35" fill="none"/>
<path d="M139.6,1202.02 L177.38,1143.06 L215.16,1095.62 L252.94,1071.44 L290.72,1057.65 L328.5,1046.03 L366.28,1043.76 L404.06,1045 L441.84,1057.04 L479.62,1067.84 L517.4,1080.29 L555.18,1097.89 L592.96,1115.38 L630.74,1128.24 L668.52,1139.77 L706.3,1145.22 L744.08,1153.04 L781.86,1163.54 L819.64,1177.22" stroke="#E39A1B" stroke-width="2.985925925925926" fill="none" stroke-linejoin="round"/>
<path d="M139.6,1201.51 L177.38,1137.61 L215.16,1087.91 L252.94,1063.62 L290.72,1049.32 L328.5,1037.18 L366.28,1031.82 L404.06,1030.59 L441.84,1042.63 L479.62,1052.71 L517.4,1065.27 L555.18,1085.33 L592.96,1105.4 L630.74,1120.94 L668.52,1134.21 L706.3,1141.31 L744.08,1148.51 L781.86,1159.63 L819.64,1172.9" stroke="#2D4C98" stroke-width="2.985925925925926" fill="none" stroke-linejoin="round"/>
<text x="111.3" y="1222.95" text-anchor="end" font-size="11.12" fill="#4D4D4D">0e+00</text>
<text x="847.9" y="1222.95" font-size="11.12" fill="#4D4D4D">0</text>
<text x="111.3" y="1120.05" text-anchor="end" font-size="11.12" fill="#4D4D4D">1e+07</text>
<text x="847.9" y="1120.05" font-size="11.12" fill="#4D4D4D">1000</text>
<text x="111.3" y="1017.15" text-anchor="end" font-size="11.12" fill="#4D4D4D">2e+07</text>
<text x="847.9" y="1017.15" font-size="11.12" fill="#4D4D4D">2000</text>
<text x="139.6" y="1248.25" text-anchor="middle" font-size="11.12" fill="#4D4D4D">05−9</text>
<text x="177.38" y="1248.25" text-anchor="middle" font-size="11.12" fill="#4D4D4D">10−14</text>
<text x="215.16" y="1248.25" text-anchor="middle" font-size="11.12" fill="#4D4D4D">15−19</text>
<text x="252.94" y="1248.25" text-anchor="middle" font-size="11.12" fill="#4D4D4D">20−24</text>
<text x="290.72" y="1248.25" text-anchor="middle" font-size="11.12" fill="#4D4D4D">25−29</text>
<text x="328.5" y="1248.25" text-anchor="middle" font-size="11.12" fill="#4D4D4D">30−34</text>
<text x="366.28" y="1248.25" text-anchor="middle" font-size="11.12" fill="#4D4D4D">35−39</text>
<text x="404.06" y="1248.25" text-anchor="middle" font-size="11.12" fill="#4D4D4D">40−44</text>
<text x="441.84" y="1248.25" text-anchor="middle" font-size="11.12" fill="#4D4D4D">45−49</text>
<text x="479.62" y="1248.25" text-anchor="middle" font-size="11.12" fill="#4D4D4D">50−54</text>
<text x="517.4" y="1248.25" text-anchor="middle" font-size="11.12" fill="#4D4D4D">55−59</text>
<text x="555.18" y="1248.25" text-anchor="middle" font-size="11.12" fill="#4D4D4D">60−64</text>
<text x="592.96" y="1248.25" text-anchor="middle" font-size="11.12" fill="#4D4D4D">65−69</text>
<text x="630.74" y="1248.25" text-anchor="middle" font-size="11.12" fill="#4D4D4D">70−74</text>
<text x="668.52" y="1248.25" text-anchor="middle" font-size="11.12" fill="#4D4D4D">75−79</text>
<text x="706.3" y="1248.25" text-anchor="middle" font-size="11.12" fill="#4D4D4D">80−84</text>
<text x="744.08" y="1248.25" text-anchor="middle" font-size="11.12" fill="#4D4D4D">85−89</text>
<text x="781.86" y="1248.25" text-anchor="middle" font-size="11.12" fill="#4D4D4D">90−94</text>
<text x="819.64" y="1248.25" text-anchor="middle" font-size="11.12" fill="#4D4D4D">95+</text>
<text x="480" y="1263.63" text-anchor="middle" font-size="13.9" fill="#000">Year</text>
<text transform="translate(72.63,1081.9) rotate(-90)" text-anchor="middle" font-size="13.9" fill="#000">Prevalence Number</text>
<text transform="translate(876.97,1081.7) rotate(90)" text-anchor="middle" font-size="13.9" fill="#000">Crude Prevalence rate per 100,000</text>
<text x="400.2" y="910" style='font-family:"Liberation Serif", serif' font-size="25" fill="#000">China</text>
<text x="911.3" y="1015.23" font-size="13.9" fill="#000">Number</text>
<rect x="911.3" y="1024.5" width="20.7" height="20" fill="#FFA500"/>
<rect x="911.3" y="1047.3" width="20.7" height="19.6" fill="#1640A8"/>
<text x="940.6" y="1039.35" font-size="11.12" fill="#000">1990</text>
<text x="940.6" y="1061.55" font-size="11.12" fill="#000">2021</text>
<text x="911.3" y="1107.83" font-size="13.9" fill="#000">Rate</text>
<line x1="913.2" y1="1126.8" x2="930.8" y2="1126.8" stroke="#FFA500" stroke-width="2.54"/>
<line x1="913.2" y1="1149" x2="930.8" y2="1149" stroke="#1A3FA0" stroke-width="2.54"/>
<text x="940.6" y="1130.75" font-size="11.12" fill="#000">1990</text>
<text x="940.6" y="1152.95" font-size="11.12" fill="#000">2021</text></g>
<g><line x1="119" y1="1568.55" x2="808" y2="1568.55" stroke="#EBEBEB" stroke-width="0.85"/>
<line x1="119" y1="1486.45" x2="808" y2="1486.45" stroke="#EBEBEB" stroke-width="0.85"/>
<line x1="119" y1="1404.35" x2="808" y2="1404.35" stroke="#EBEBEB" stroke-width="0.85"/>
<line x1="119" y1="1609.6" x2="808" y2="1609.6" stroke="#EBEBEB" stroke-width="1.2"/>
<line x1="119" y1="1527.5" x2="808" y2="1527.5" stroke="#EBEBEB" stroke-width="1.2"/>
<line x1="119" y1="1445.4" x2="808" y2="1445.4" stroke="#EBEBEB" stroke-width="1.2"/>
<line x1="119" y1="1363.3" x2="808" y2="1363.3" stroke="#EBEBEB" stroke-width="1.2"/>
<line x1="147.6" y1="1331" x2="147.6" y2="1622.6" stroke="#EBEBEB" stroke-width="1.2"/>
<line x1="183.08" y1="1331" x2="183.08" y2="1622.6" stroke="#EBEBEB" stroke-width="1.2"/>
<line x1="218.56" y1="1331" x2="218.56" y2="1622.6" stroke="#EBEBEB" stroke-width="1.2"/>
<line x1="254.04" y1="1331" x2="254.04" y2="1622.6" stroke="#EBEBEB" stroke-width="1.2"/>
<line x1="289.52" y1="1331" x2="289.52" y2="1622.6" stroke="#EBEBEB" stroke-width="1.2"/>
<line x1="325" y1="1331" x2="325" y2="1622.6" stroke="#EBEBEB" stroke-width="1.2"/>
<line x1="360.48" y1="1331" x2="360.48" y2="1622.6" stroke="#EBEBEB" stroke-width="1.2"/>
<line x1="395.96" y1="1331" x2="395.96" y2="1622.6" stroke="#EBEBEB" stroke-width="1.2"/>
<line x1="431.44" y1="1331" x2="431.44" y2="1622.6" stroke="#EBEBEB" stroke-width="1.2"/>
<line x1="466.92" y1="1331" x2="466.92" y2="1622.6" stroke="#EBEBEB" stroke-width="1.2"/>
<line x1="502.4" y1="1331" x2="502.4" y2="1622.6" stroke="#EBEBEB" stroke-width="1.2"/>
<line x1="537.88" y1="1331" x2="537.88" y2="1622.6" stroke="#EBEBEB" stroke-width="1.2"/>
<line x1="573.36" y1="1331" x2="573.36" y2="1622.6" stroke="#EBEBEB" stroke-width="1.2"/>
<line x1="608.84" y1="1331" x2="608.84" y2="1622.6" stroke="#EBEBEB" stroke-width="1.2"/>
<line x1="644.32" y1="1331" x2="644.32" y2="1622.6" stroke="#EBEBEB" stroke-width="1.2"/>
<line x1="679.8" y1="1331" x2="679.8" y2="1622.6" stroke="#EBEBEB" stroke-width="1.2"/>
<line x1="715.28" y1="1331" x2="715.28" y2="1622.6" stroke="#EBEBEB" stroke-width="1.2"/>
<line x1="750.76" y1="1331" x2="750.76" y2="1622.6" stroke="#EBEBEB" stroke-width="1.2"/>
<line x1="786.24" y1="1331" x2="786.24" y2="1622.6" stroke="#EBEBEB" stroke-width="1.2"/>
<rect x="134.1" y="1585.46" width="12.6" height="24.14" fill="#FFA500"/>
<rect x="148.5" y="1580.7" width="12.6" height="28.9" fill="#1640A8"/>
<rect x="169.58" y="1505.17" width="12.6" height="104.43" fill="#FFA500"/>
<rect x="183.98" y="1478.24" width="12.6" height="131.36" fill="#1640A8"/>
<rect x="205.06" y="1465.92" width="12.6" height="143.67" fill="#FFA500"/>
<rect x="219.46" y="1431.94" width="12.6" height="177.66" fill="#1640A8"/>
<rect x="240.54" y="1457.55" width="12.6" height="152.05" fill="#FFA500"/>
<rect x="254.94" y="1419.62" width="12.6" height="189.98" fill="#1640A8"/>
<rect x="276.02" y="1462.31" width="12.6" height="147.29" fill="#FFA500"/>
<rect x="290.42" y="1411.41" width="12.6" height="198.19" fill="#1640A8"/>
<rect x="311.5" y="1475.94" width="12.6" height="133.66" fill="#FFA500"/>
<rect x="325.9" y="1399.42" width="12.6" height="210.18" fill="#1640A8"/>
<rect x="346.98" y="1486.78" width="12.6" height="122.82" fill="#FFA500"/>
<rect x="361.38" y="1411.41" width="12.6" height="198.19" fill="#1640A8"/>
<rect x="382.46" y="1509.6" width="12.6" height="100" fill="#FFA500"/>
<rect x="396.86" y="1432.26" width="12.6" height="177.34" fill="#1640A8"/>
<rect x="417.94" y="1534.89" width="12.6" height="74.71" fill="#FFA500"/>
<rect x="432.34" y="1455.74" width="12.6" height="153.86" fill="#1640A8"/>
<rect x="453.42" y="1546.38" width="12.6" height="63.22" fill="#FFA500"/>
<rect x="467.82" y="1476.27" width="12.6" height="133.33" fill="#1640A8"/>
<rect x="488.9" y="1560.18" width="12.6" height="49.42" fill="#FFA500"/>
<rect x="503.3" y="1503.03" width="12.6" height="106.57" fill="#1640A8"/>
<rect x="524.38" y="1572.82" width="12.6" height="36.78" fill="#FFA500"/>
<rect x="538.78" y="1534.89" width="12.6" height="74.71" fill="#1640A8"/>
<rect x="559.86" y="1585.46" width="12.6" height="24.14" fill="#FFA500"/>
<rect x="574.26" y="1555.74" width="12.6" height="53.86" fill="#1640A8"/>
<rect x="595.34" y="1596.3" width="12.6" height="13.3" fill="#FFA500"/>
<rect x="609.74" y="1577.09" width="12.6" height="32.51" fill="#1640A8"/>
<rect x="630.82" y="1601.72" width="12.6" height="7.88" fill="#FFA500"/>
<rect x="645.22" y="1591.87" width="12.6" height="17.73" fill="#1640A8"/>
<rect x="666.3" y="1605.99" width="12.6" height="3.61" fill="#FFA500"/>
<rect x="680.7" y="1598.11" width="12.6" height="11.49" fill="#1640A8"/>
<rect x="701.78" y="1608.12" width="12.6" height="1.48" fill="#FFA500"/>
<rect x="716.18" y="1605.33" width="12.6" height="4.27" fill="#1640A8"/>
<rect x="737.26" y="1609.11" width="12.6" height="0.49" fill="#FFA500"/>
<rect x="751.66" y="1608.12" width="12.6" height="1.48" fill="#1640A8"/>
<rect x="772.74" y="1609.3" width="12.6" height="0.3" fill="#FFA500"/>
<rect x="787.14" y="1609.27" width="12.6" height="0.33" fill="#1640A8"/>
<path d="M147.6,1603.36 L183.08,1582.84 L218.56,1574.46 L254.04,1569.21 L289.52,1567.24 L325,1566.58 L360.48,1566.58 L395.96,1566.58 L431.44,1569.7 L466.92,1572.65 L502.4,1576.76 L537.88,1581.52 L573.36,1586.45 L608.84,1590.39 L644.32,1594 L679.8,1596.3 L715.28,1598.43 L750.76,1600.57 L786.24,1601.88 L786.24,1603.52 L750.76,1602.87 L715.28,1601.39 L679.8,1599.91 L644.32,1598.6 L608.84,1596.3 L573.36,1593.67 L537.88,1590.72 L502.4,1588.25 L466.92,1585.79 L431.44,1584.48 L395.96,1582.67 L360.48,1582.67 L325,1582.67 L289.52,1583.33 L254.04,1584.97 L218.56,1589.24 L183.08,1595.31 L147.6,1607.3Z" fill="#808080" fill-opacity="0.4"/>
<path d="M140.4,1575.61V1593.34M138.09,1575.61H142.7M138.09,1593.34H142.7M154.8,1569.21V1590.06M152.5,1569.21H157.11M152.5,1590.06H157.11M175.88,1470.85V1531.93M173.57,1470.85H178.18M173.57,1531.93H178.18M190.28,1434.89V1511.41M187.98,1434.89H192.59M187.98,1511.41H192.59M211.36,1426.85V1501.56M209.05,1426.85H213.66M209.05,1501.56H213.66M225.76,1382.51V1475.61M223.46,1382.51H228.07M223.46,1475.61H228.07M246.84,1418.14V1491.87M244.53,1418.14H249.14M244.53,1491.87H249.14M261.24,1370.52V1462.97M258.94,1370.52H263.55M258.94,1462.97H263.55M282.32,1426.85V1492.53M280.01,1426.85H284.62M280.01,1492.53H284.62M296.72,1361.82V1452.46M294.42,1361.82H299.03M294.42,1452.46H299.03M317.8,1441.62V1504.18M315.49,1441.62H320.1M315.49,1504.18H320.1M332.2,1343.43V1443.43M329.9,1343.43H334.51M329.9,1443.43H334.51M353.28,1457.88V1510.26M350.97,1457.88H355.58M350.97,1510.26H355.58M367.68,1364.12V1449.34M365.38,1364.12H369.99M365.38,1449.34H369.99M388.76,1484.32V1528.65M386.45,1484.32H391.06M386.45,1528.65H391.06M403.16,1386.78V1465.92M400.86,1386.78H405.47M400.86,1465.92H405.47M424.24,1515.68V1548.52M421.93,1515.68H426.54M421.93,1548.52H426.54M438.64,1416.83V1486.45M436.34,1416.83H440.95M436.34,1486.45H440.95M459.72,1530.13V1558.37M457.41,1530.13H462.02M457.41,1558.37H462.02M474.12,1440.97V1500.57M471.82,1440.97H476.43M471.82,1500.57H476.43M495.2,1547.53V1569.86M492.89,1547.53H497.5M492.89,1569.86H497.5M509.6,1474.46V1524.05M507.3,1474.46H511.91M507.3,1524.05H511.91M530.68,1562.64V1579.22M528.37,1562.64H532.98M528.37,1579.22H532.98M545.08,1514.2V1549.34M542.78,1514.2H547.39M542.78,1549.34H547.39M566.16,1579.22V1590.06M563.85,1579.22H568.46M563.85,1590.06H568.46M580.56,1540.96V1567.4M578.26,1540.96H582.87M578.26,1567.4H582.87M601.64,1593.34V1598.76M599.33,1593.34H603.94M599.33,1598.76H603.94M616.04,1566.91V1583.66M613.74,1566.91H618.35M613.74,1583.66H618.35M637.12,1598.76V1603.52M634.81,1598.76H639.42M634.81,1603.52H639.42M651.52,1586.45V1596.3M649.22,1586.45H653.83M649.22,1596.3H653.83M672.6,1604.67V1607.14M670.29,1604.67H674.9M670.29,1607.14H674.9M687,1595.48V1600.57M684.7,1595.48H689.31M684.7,1600.57H689.31M708.08,1607.47V1608.61M705.77,1607.47H710.38M705.77,1608.61H710.38M722.48,1603.85V1606.64M720.18,1603.85H724.79M720.18,1606.64H724.79M743.56,1608.78V1609.27M741.25,1608.78H745.86M741.25,1609.27H745.86M757.96,1607.47V1608.61M755.66,1607.47H760.27M755.66,1608.61H760.27M779.04,1609.27V1609.52M776.73,1609.27H781.34M776.73,1609.52H781.34M793.44,1608.94V1609.44M791.14,1608.94H795.75M791.14,1609.44H795.75" stroke="#111" stroke-width="1.35" fill="none"/>
<path d="M147.6,1605.39 L183.08,1589.38 L218.56,1582.27 L254.04,1577.58 L289.52,1575.8 L325,1575.15 L360.48,1575.15 L395.96,1575.15 L431.44,1577.58 L466.92,1579.68 L502.4,1582.91 L537.88,1586.47 L573.36,1590.35 L608.84,1593.59 L644.32,1596.5 L679.8,1598.28 L715.28,1600.06 L750.76,1601.84 L786.24,1602.81" stroke="#E39A1B" stroke-width="1.2" fill="none" stroke-linejoin="round"/>
<path d="M147.6,1605.33 L183.08,1589.07 L218.56,1581.85 L254.04,1577.09 L289.52,1575.28 L325,1574.63 L360.48,1574.63 L395.96,1574.63 L431.44,1577.09 L466.92,1579.22 L502.4,1582.51 L537.88,1586.12 L573.36,1590.06 L608.84,1593.34 L644.32,1596.3 L679.8,1598.11 L715.28,1599.91 L750.76,1601.72 L786.24,1602.7" stroke="#2D4C98" stroke-width="2.8677777777777775" fill="none" stroke-linejoin="round"/>
<text x="120.4" y="1613.39" text-anchor="end" font-size="10.68" fill="#4D4D4D">0.0e+00</text>
<text x="814.4" y="1613.39" font-size="10.68" fill="#4D4D4D">0</text>
<text x="120.4" y="1531.29" text-anchor="end" font-size="10.68" fill="#4D4D4D">5.0e+07</text>
<text x="814.4" y="1531.29" font-size="10.68" fill="#4D4D4D">5000</text>
<text x="120.4" y="1449.19" text-anchor="end" font-size="10.68" fill="#4D4D4D">1.0e+08</text>
<text x="814.4" y="1449.19" font-size="10.68" fill="#4D4D4D">10000</text>
<text x="120.4" y="1367.09" text-anchor="end" font-size="10.68" fill="#4D4D4D">1.5e+08</text>
<text x="814.4" y="1367.09" font-size="10.68" fill="#4D4D4D">15000</text>
<text x="147.6" y="1636.29" text-anchor="middle" font-size="10.68" fill="#4D4D4D">05−9</text>
<text x="183.08" y="1636.29" text-anchor="middle" font-size="10.68" fill="#4D4D4D">10−14</text>
<text x="218.56" y="1636.29" text-anchor="middle" font-size="10.68" fill="#4D4D4D">15−19</text>
<text x="254.04" y="1636.29" text-anchor="middle" font-size="10.68" fill="#4D4D4D">20−24</text>
<text x="289.52" y="1636.29" text-anchor="middle" font-size="10.68" fill="#4D4D4D">25−29</text>
<text x="325" y="1636.29" text-anchor="middle" font-size="10.68" fill="#4D4D4D">30−34</text>
<text x="360.48" y="1636.29" text-anchor="middle" font-size="10.68" fill="#4D4D4D">35−39</text>
<text x="395.96" y="1636.29" text-anchor="middle" font-size="10.68" fill="#4D4D4D">40−44</text>
<text x="431.44" y="1636.29" text-anchor="middle" font-size="10.68" fill="#4D4D4D">45−49</text>
<text x="466.92" y="1636.29" text-anchor="middle" font-size="10.68" fill="#4D4D4D">50−54</text>
<text x="502.4" y="1636.29" text-anchor="middle" font-size="10.68" fill="#4D4D4D">55−59</text>
<text x="537.88" y="1636.29" text-anchor="middle" font-size="10.68" fill="#4D4D4D">60−64</text>
<text x="573.36" y="1636.29" text-anchor="middle" font-size="10.68" fill="#4D4D4D">65−69</text>
<text x="608.84" y="1636.29" text-anchor="middle" font-size="10.68" fill="#4D4D4D">70−74</text>
<text x="644.32" y="1636.29" text-anchor="middle" font-size="10.68" fill="#4D4D4D">75−79</text>
<text x="679.8" y="1636.29" text-anchor="middle" font-size="10.68" fill="#4D4D4D">80−84</text>
<text x="715.28" y="1636.29" text-anchor="middle" font-size="10.68" fill="#4D4D4D">85−89</text>
<text x="750.76" y="1636.29" text-anchor="middle" font-size="10.68" fill="#4D4D4D">90−94</text>
<text x="786.24" y="1636.29" text-anchor="middle" font-size="10.68" fill="#4D4D4D">95+</text>
<text x="463.5" y="1651.84" text-anchor="middle" font-size="13.35" fill="#000">Year</text>
<text transform="translate(73.94,1476.9) rotate(-90)" text-anchor="middle" font-size="13.35" fill="#000">Prevalence Number</text>
<text transform="translate(848.16,1476.7) rotate(90)" text-anchor="middle" font-size="13.35" fill="#000">Crude Prevalence rate per 100,000</text>
<text x="400.2" y="1305.1" style='font-family:"Liberation Serif", serif' font-size="25" fill="#000">Globally</text>
<text x="881.2" y="1412.94" font-size="13.35" fill="#000">Number</text>
<rect x="881.2" y="1421.7" width="20" height="19.1" fill="#FFA500"/>
<rect x="881.2" y="1443" width="20" height="19.6" fill="#1640A8"/>
<text x="909.5" y="1435.89" font-size="10.68" fill="#000">1990</text>
<text x="909.5" y="1456.99" font-size="10.68" fill="#000">2021</text>
<text x="881.2" y="1501.74" font-size="13.35" fill="#000">Rate</text>
<line x1="882.7" y1="1520.3" x2="900.2" y2="1520.3" stroke="#FFA500" stroke-width="2.44"/>
<line x1="882.7" y1="1541.6" x2="900.2" y2="1541.6" stroke="#1A3FA0" stroke-width="2.44"/>
<text x="909.5" y="1524.09" font-size="10.68" fill="#000">1990</text>
<text x="909.5" y="1545.39" font-size="10.68" fill="#000">2021</text></g>
<g><line x1="120" y1="1980.4" x2="843" y2="1980.4" stroke="#EBEBEB" stroke-width="0.85"/>
<line x1="120" y1="1901.2" x2="843" y2="1901.2" stroke="#EBEBEB" stroke-width="0.85"/>
<line x1="120" y1="1822" x2="843" y2="1822" stroke="#EBEBEB" stroke-width="0.85"/>
<line x1="120" y1="1742.8" x2="843" y2="1742.8" stroke="#EBEBEB" stroke-width="0.85"/>
<line x1="120" y1="2020" x2="843" y2="2020" stroke="#EBEBEB" stroke-width="1.2"/>
<line x1="120" y1="1940.8" x2="843" y2="1940.8" stroke="#EBEBEB" stroke-width="1.2"/>
<line x1="120" y1="1861.6" x2="843" y2="1861.6" stroke="#EBEBEB" stroke-width="1.2"/>
<line x1="120" y1="1782.4" x2="843" y2="1782.4" stroke="#EBEBEB" stroke-width="1.2"/>
<line x1="142.5" y1="1720.8" x2="142.5" y2="2034.3" stroke="#EBEBEB" stroke-width="1.2"/>
<line x1="180.2" y1="1720.8" x2="180.2" y2="2034.3" stroke="#EBEBEB" stroke-width="1.2"/>
<line x1="217.9" y1="1720.8" x2="217.9" y2="2034.3" stroke="#EBEBEB" stroke-width="1.2"/>
<line x1="255.6" y1="1720.8" x2="255.6" y2="2034.3" stroke="#EBEBEB" stroke-width="1.2"/>
<line x1="293.3" y1="1720.8" x2="293.3" y2="2034.3" stroke="#EBEBEB" stroke-width="1.2"/>
<line x1="331" y1="1720.8" x2="331" y2="2034.3" stroke="#EBEBEB" stroke-width="1.2"/>
<line x1="368.7" y1="1720.8" x2="368.7" y2="2034.3" stroke="#EBEBEB" stroke-width="1.2"/>
<line x1="406.4" y1="1720.8" x2="406.4" y2="2034.3" stroke="#EBEBEB" stroke-width="1.2"/>
<line x1="444.1" y1="1720.8" x2="444.1" y2="2034.3" stroke="#EBEBEB" stroke-width="1.2"/>
<line x1="481.8" y1="1720.8" x2="481.8" y2="2034.3" stroke="#EBEBEB" stroke-width="1.2"/>
<line x1="519.5" y1="1720.8" x2="519.5" y2="2034.3" stroke="#EBEBEB" stroke-width="1.2"/>
<line x1="557.2" y1="1720.8" x2="557.2" y2="2034.3" stroke="#EBEBEB" stroke-width="1.2"/>
<line x1="594.9" y1="1720.8" x2="594.9" y2="2034.3" stroke="#EBEBEB" stroke-width="1.2"/>
<line x1="632.6" y1="1720.8" x2="632.6" y2="2034.3" stroke="#EBEBEB" stroke-width="1.2"/>
<line x1="670.3" y1="1720.8" x2="670.3" y2="2034.3" stroke="#EBEBEB" stroke-width="1.2"/>
<line x1="708" y1="1720.8" x2="708" y2="2034.3" stroke="#EBEBEB" stroke-width="1.2"/>
<line x1="745.7" y1="1720.8" x2="745.7" y2="2034.3" stroke="#EBEBEB" stroke-width="1.2"/>
<line x1="783.4" y1="1720.8" x2="783.4" y2="2034.3" stroke="#EBEBEB" stroke-width="1.2"/>
<line x1="821.1" y1="1720.8" x2="821.1" y2="2034.3" stroke="#EBEBEB" stroke-width="1.2"/>
<rect x="128.16" y="2012.4" width="13.38" height="7.6" fill="#FFA500"/>
<rect x="143.46" y="2012.71" width="13.38" height="7.29" fill="#1640A8"/>
<rect x="165.86" y="1976.6" width="13.38" height="43.4" fill="#FFA500"/>
<rect x="181.16" y="1981.03" width="13.38" height="38.97" fill="#1640A8"/>
<rect x="203.56" y="1930.03" width="13.38" height="89.97" fill="#FFA500"/>
<rect x="218.86" y="1963.61" width="13.38" height="56.39" fill="#1640A8"/>
<rect x="241.26" y="1908.8" width="13.38" height="111.2" fill="#FFA500"/>
<rect x="256.56" y="1955.06" width="13.38" height="64.94" fill="#1640A8"/>
<rect x="278.96" y="1919.26" width="13.38" height="100.74" fill="#FFA500"/>
<rect x="294.26" y="1936.52" width="13.38" height="83.48" fill="#1640A8"/>
<rect x="316.66" y="1933.67" width="13.38" height="86.33" fill="#FFA500"/>
<rect x="331.96" y="1893.6" width="13.38" height="126.4" fill="#1640A8"/>
<rect x="354.36" y="1926.86" width="13.38" height="93.14" fill="#FFA500"/>
<rect x="369.66" y="1904.05" width="13.38" height="115.95" fill="#1640A8"/>
<rect x="392.06" y="1951.1" width="13.38" height="68.9" fill="#FFA500"/>
<rect x="407.36" y="1918.15" width="13.38" height="101.85" fill="#1640A8"/>
<rect x="429.76" y="1970.58" width="13.38" height="49.42" fill="#FFA500"/>
<rect x="445.06" y="1904.84" width="13.38" height="115.16" fill="#1640A8"/>
<rect x="467.46" y="1976.28" width="13.38" height="43.72" fill="#FFA500"/>
<rect x="482.76" y="1900.09" width="13.38" height="119.91" fill="#1640A8"/>
<rect x="505.16" y="1983.09" width="13.38" height="36.91" fill="#FFA500"/>
<rect x="520.46" y="1920.21" width="13.38" height="99.79" fill="#1640A8"/>
<rect x="542.86" y="1993.39" width="13.38" height="26.61" fill="#FFA500"/>
<rect x="558.16" y="1960.28" width="13.38" height="59.72" fill="#1640A8"/>
<rect x="580.56" y="2002.89" width="13.38" height="17.11" fill="#FFA500"/>
<rect x="595.86" y="1967.41" width="13.38" height="52.59" fill="#1640A8"/>
<rect x="618.26" y="2010.5" width="13.38" height="9.5" fill="#FFA500"/>
<rect x="633.56" y="1990.22" width="13.38" height="29.78" fill="#1640A8"/>
<rect x="655.96" y="2016.2" width="13.38" height="3.8" fill="#FFA500"/>
<rect x="671.26" y="2004" width="13.38" height="16" fill="#1640A8"/>
<rect x="693.66" y="2018.1" width="13.38" height="1.9" fill="#FFA500"/>
<rect x="708.96" y="2011.6" width="13.38" height="8.4" fill="#1640A8"/>
<rect x="731.36" y="2019.21" width="13.38" height="0.79" fill="#FFA500"/>
<rect x="746.66" y="2016.99" width="13.38" height="3.01" fill="#1640A8"/>
<rect x="769.06" y="2019.68" width="13.38" height="0.32" fill="#FFA500"/>
<rect x="784.36" y="2019.21" width="13.38" height="0.79" fill="#1640A8"/>
<rect x="806.76" y="2019.7" width="13.38" height="0.3" fill="#FFA500"/>
<rect x="822.06" y="2019.68" width="13.38" height="0.32" fill="#1640A8"/>
<path d="M142.5,2018.42 L180.2,2010.5 L217.9,2004.16 L255.6,2000.52 L293.3,1997.82 L331,1996.08 L368.7,1994.97 L406.4,1994.97 L444.1,1996.08 L481.8,1998.93 L519.5,2000.83 L557.2,2002.73 L594.9,2004.48 L632.6,2007.01 L670.3,2009.23 L708,2010.97 L745.7,2013.19 L783.4,2014.61 L821.1,2017.47 L821.1,2019.05 L783.4,2020.32 L745.7,2019.52 L708,2020.16 L670.3,2020.63 L632.6,2020.63 L594.9,2020.95 L557.2,2020.79 L519.5,2019.84 L481.8,2019.52 L444.1,2021.11 L406.4,2021.9 L368.7,2021.9 L331,2021.43 L293.3,2021.27 L255.6,2020.79 L217.9,2021.27 L180.2,2021.58 L142.5,2020.63Z" fill="#808080" fill-opacity="0.4"/>
<path d="M134.85,1995.45V2020M132.4,1995.45H137.3M132.4,2020H137.3M150.15,1996.56V2020M147.7,1996.56H152.6M147.7,2020H152.6M172.55,1911.65V2015.25M170.1,1911.65H175M170.1,2015.25H175M187.85,1923.53V2017.78M185.4,1923.53H190.3M185.4,2017.78H190.3M210.25,1804.73V2011.76M207.8,1804.73H212.7M207.8,2011.76H212.7M225.55,1885.99V2015.25M223.1,1885.99H228M223.1,2015.25H228M247.95,1747.39V2008.12M245.5,1747.39H250.4M245.5,2008.12H250.4M263.25,1860.81V2013.51M260.8,1860.81H265.7M260.8,2013.51H265.7M285.65,1784.62V2009.86M283.2,1784.62H288.1M283.2,2009.86H288.1M300.95,1823.9V2010.65M298.5,1823.9H303.4M298.5,2010.65H303.4M323.35,1826.12V2009.23M320.9,1826.12H325.8M320.9,2009.23H325.8M338.65,1735.04V2004.48M336.2,1735.04H341.1M336.2,2004.48H341.1M361.05,1815.98V2005.59M358.6,1815.98H363.5M358.6,2005.59H363.5M376.35,1761.81V2002.73M373.9,1761.81H378.8M373.9,2002.73H378.8M398.75,1865.4V2008.12M396.3,1865.4H401.2M396.3,2008.12H401.2M414.05,1787.79V2004.48M411.6,1787.79H416.5M411.6,2004.48H416.5M436.45,1913.08V2009.86M434,1913.08H438.9M434,2009.86H438.9M451.75,1765.13V1999.72M449.3,1765.13H454.2M449.3,1999.72H454.2M474.15,1924.01V2008.6M471.7,1924.01H476.6M471.7,2008.6H476.6M489.45,1757.69V1998.3M487,1757.69H491.9M487,1998.3H491.9M511.85,1940.01V2010.5M509.4,1940.01H514.3M509.4,2010.5H514.3M527.15,1799.98V2000.99M524.7,1799.98H529.6M524.7,2000.99H529.6M549.55,1962.82V2014.3M547.1,1962.82H552M547.1,2014.3H552M564.85,1891.38V2006.69M562.4,1891.38H567.3M562.4,2006.69H567.3M587.25,1982.3V2015.41M584.8,1982.3H589.7M584.8,2015.41H589.7M602.55,1907.22V2008.6M600.1,1907.22H605M600.1,2008.6H605M624.95,1998.3V2017.31M622.5,1998.3H627.4M622.5,2017.31H627.4M640.25,1954.58V2012.4M637.8,1954.58H642.7M637.8,2012.4H642.7M662.65,2009.39V2018.89M660.2,2009.39H665.1M660.2,2018.89H665.1M677.95,1984.52V2014.3M675.5,1984.52H680.4M675.5,2014.3H680.4M700.35,2015.25V2019.52M697.9,2015.25H702.8M697.9,2019.52H702.8M715.65,2001.31V2017.31M713.2,2001.31H718.1M713.2,2017.31H718.1M738.05,2018.42V2019.84M735.6,2018.42H740.5M735.6,2019.84H740.5M753.35,2012.4V2019.21M750.9,2012.4H755.8M750.9,2019.21H755.8M775.75,2019.37V2020M773.3,2019.37H778.2M773.3,2020H778.2M791.05,2018.1V2019.84M788.6,2018.1H793.5M788.6,2019.84H793.5M813.45,2019.68V2020M811,2019.68H815.9M811,2020H815.9M828.75,2019.37V2020M826.3,2019.37H831.2M826.3,2020H831.2" stroke="#111" stroke-width="1.35" fill="none"/>
<path d="M142.5,2019.54 L180.2,2016.16 L217.9,2012.93 L255.6,2010.93 L293.3,2009.86 L331,2009.09 L368.7,2008.78 L406.4,2008.78 L444.1,2008.94 L481.8,2009.55 L519.5,2010.63 L557.2,2012.01 L594.9,2012.93 L632.6,2014.01 L670.3,2015.08 L708,2015.7 L745.7,2016.47 L783.4,2017.54 L821.1,2018.31" stroke="#E39A1B" stroke-width="1.2" fill="none" stroke-linejoin="round"/>
<path d="M142.5,2019.52 L180.2,2016.04 L217.9,2012.71 L255.6,2010.65 L293.3,2009.55 L331,2008.75 L368.7,2008.44 L406.4,2008.44 L444.1,2008.6 L481.8,2009.23 L519.5,2010.34 L557.2,2011.76 L594.9,2012.71 L632.6,2013.82 L670.3,2014.93 L708,2015.56 L745.7,2016.36 L783.4,2017.47 L821.1,2018.26" stroke="#2D4C98" stroke-width="3.061111111111111" fill="none" stroke-linejoin="round"/>
<text x="113.3" y="2024.05" text-anchor="end" font-size="11.4" fill="#4D4D4D">0</text>
<text x="850.1" y="2024.05" font-size="11.4" fill="#4D4D4D">0</text>
<text x="113.3" y="1944.85" text-anchor="end" font-size="11.4" fill="#4D4D4D">500000</text>
<text x="850.1" y="1944.85" font-size="11.4" fill="#4D4D4D">5000</text>
<text x="113.3" y="1865.65" text-anchor="end" font-size="11.4" fill="#4D4D4D">1000000</text>
<text x="850.1" y="1865.65" font-size="11.4" fill="#4D4D4D">10000</text>
<text x="113.3" y="1786.45" text-anchor="end" font-size="11.4" fill="#4D4D4D">1500000</text>
<text x="850.1" y="1786.45" font-size="11.4" fill="#4D4D4D">15000</text>
<text x="142.5" y="2049.75" text-anchor="middle" font-size="11.4" fill="#4D4D4D">05−9</text>
<text x="180.2" y="2049.75" text-anchor="middle" font-size="11.4" fill="#4D4D4D">10−14</text>
<text x="217.9" y="2049.75" text-anchor="middle" font-size="11.4" fill="#4D4D4D">15−19</text>
<text x="255.6" y="2049.75" text-anchor="middle" font-size="11.4" fill="#4D4D4D">20−24</text>
<text x="293.3" y="2049.75" text-anchor="middle" font-size="11.4" fill="#4D4D4D">25−29</text>
<text x="331" y="2049.75" text-anchor="middle" font-size="11.4" fill="#4D4D4D">30−34</text>
<text x="368.7" y="2049.75" text-anchor="middle" font-size="11.4" fill="#4D4D4D">35−39</text>
<text x="406.4" y="2049.75" text-anchor="middle" font-size="11.4" fill="#4D4D4D">40−44</text>
<text x="444.1" y="2049.75" text-anchor="middle" font-size="11.4" fill="#4D4D4D">45−49</text>
<text x="481.8" y="2049.75" text-anchor="middle" font-size="11.4" fill="#4D4D4D">50−54</text>
<text x="519.5" y="2049.75" text-anchor="middle" font-size="11.4" fill="#4D4D4D">55−59</text>
<text x="557.2" y="2049.75" text-anchor="middle" font-size="11.4" fill="#4D4D4D">60−64</text>
<text x="594.9" y="2049.75" text-anchor="middle" font-size="11.4" fill="#4D4D4D">65−69</text>
<text x="632.6" y="2049.75" text-anchor="middle" font-size="11.4" fill="#4D4D4D">70−74</text>
<text x="670.3" y="2049.75" text-anchor="middle" font-size="11.4" fill="#4D4D4D">75−79</text>
<text x="708" y="2049.75" text-anchor="middle" font-size="11.4" fill="#4D4D4D">80−84</text>
<text x="745.7" y="2049.75" text-anchor="middle" font-size="11.4" fill="#4D4D4D">85−89</text>
<text x="783.4" y="2049.75" text-anchor="middle" font-size="11.4" fill="#4D4D4D">90−94</text>
<text x="821.1" y="2049.75" text-anchor="middle" font-size="11.4" fill="#4D4D4D">95+</text>
<text x="481.5" y="2065.26" text-anchor="middle" font-size="14.25" fill="#000">Year</text>
<text transform="translate(61.26,1876.9) rotate(-90)" text-anchor="middle" font-size="14.25" fill="#000">DALYs Number</text>
<text transform="translate(886.44,1877.6) rotate(90)" text-anchor="middle" font-size="14.25" fill="#000">Crude DALYs rate per 100,000</text>
<text x="407.7" y="1686.6" style='font-family:"Liberation Serif", serif' font-size="25" fill="#000">China</text>
<text x="921.5" y="1809.06" font-size="14.25" fill="#000">Number</text>
<rect x="921.5" y="1818.2" width="21.3" height="21.3" fill="#FFA500"/>
<rect x="921.5" y="1841.7" width="21.3" height="20.7" fill="#1640A8"/>
<text x="951.5" y="1833.35" font-size="11.4" fill="#000">1990</text>
<text x="951.5" y="1856.65" font-size="11.4" fill="#000">2021</text>
<text x="921.5" y="1904.86" font-size="14.25" fill="#000">Rate</text>
<line x1="923" y1="1924.4" x2="941.7" y2="1924.4" stroke="#FFA500" stroke-width="2.6"/>
<line x1="923" y1="1947.3" x2="941.7" y2="1947.3" stroke="#1A3FA0" stroke-width="2.6"/>
<text x="951.5" y="1928.45" font-size="11.4" fill="#000">1990</text>
<text x="951.5" y="1951.35" font-size="11.4" fill="#000">2021</text></g>
<g><line x1="108.2" y1="2407.89" x2="856.7" y2="2407.89" stroke="#EBEBEB" stroke-width="0.85"/>
<line x1="108.2" y1="2326.09" x2="856.7" y2="2326.09" stroke="#EBEBEB" stroke-width="0.85"/>
<line x1="108.2" y1="2244.28" x2="856.7" y2="2244.28" stroke="#EBEBEB" stroke-width="0.85"/>
<line x1="108.2" y1="2162.47" x2="856.7" y2="2162.47" stroke="#EBEBEB" stroke-width="0.85"/>
<line x1="108.2" y1="2448.8" x2="856.7" y2="2448.8" stroke="#EBEBEB" stroke-width="1.2"/>
<line x1="108.2" y1="2366.99" x2="856.7" y2="2366.99" stroke="#EBEBEB" stroke-width="1.2"/>
<line x1="108.2" y1="2285.18" x2="856.7" y2="2285.18" stroke="#EBEBEB" stroke-width="1.2"/>
<line x1="108.2" y1="2203.37" x2="856.7" y2="2203.37" stroke="#EBEBEB" stroke-width="1.2"/>
<line x1="131.9" y1="2145" x2="131.9" y2="2462.6" stroke="#EBEBEB" stroke-width="1.2"/>
<line x1="170.87" y1="2145" x2="170.87" y2="2462.6" stroke="#EBEBEB" stroke-width="1.2"/>
<line x1="209.84" y1="2145" x2="209.84" y2="2462.6" stroke="#EBEBEB" stroke-width="1.2"/>
<line x1="248.81" y1="2145" x2="248.81" y2="2462.6" stroke="#EBEBEB" stroke-width="1.2"/>
<line x1="287.78" y1="2145" x2="287.78" y2="2462.6" stroke="#EBEBEB" stroke-width="1.2"/>
<line x1="326.75" y1="2145" x2="326.75" y2="2462.6" stroke="#EBEBEB" stroke-width="1.2"/>
<line x1="365.72" y1="2145" x2="365.72" y2="2462.6" stroke="#EBEBEB" stroke-width="1.2"/>
<line x1="404.69" y1="2145" x2="404.69" y2="2462.6" stroke="#EBEBEB" stroke-width="1.2"/>
<line x1="443.66" y1="2145" x2="443.66" y2="2462.6" stroke="#EBEBEB" stroke-width="1.2"/>
<line x1="482.63" y1="2145" x2="482.63" y2="2462.6" stroke="#EBEBEB" stroke-width="1.2"/>
<line x1="521.6" y1="2145" x2="521.6" y2="2462.6" stroke="#EBEBEB" stroke-width="1.2"/>
<line x1="560.57" y1="2145" x2="560.57" y2="2462.6" stroke="#EBEBEB" stroke-width="1.2"/>
<line x1="599.54" y1="2145" x2="599.54" y2="2462.6" stroke="#EBEBEB" stroke-width="1.2"/>
<line x1="638.51" y1="2145" x2="638.51" y2="2462.6" stroke="#EBEBEB" stroke-width="1.2"/>
<line x1="677.48" y1="2145" x2="677.48" y2="2462.6" stroke="#EBEBEB" stroke-width="1.2"/>
<line x1="716.45" y1="2145" x2="716.45" y2="2462.6" stroke="#EBEBEB" stroke-width="1.2"/>
<line x1="755.42" y1="2145" x2="755.42" y2="2462.6" stroke="#EBEBEB" stroke-width="1.2"/>
<line x1="794.39" y1="2145" x2="794.39" y2="2462.6" stroke="#EBEBEB" stroke-width="1.2"/>
<line x1="833.36" y1="2145" x2="833.36" y2="2462.6" stroke="#EBEBEB" stroke-width="1.2"/>
<rect x="117.07" y="2435.44" width="13.83" height="13.36" fill="#FFA500"/>
<rect x="132.89" y="2432.82" width="13.83" height="15.98" fill="#1640A8"/>
<rect x="156.04" y="2386.41" width="13.83" height="62.39" fill="#FFA500"/>
<rect x="171.86" y="2369.69" width="13.83" height="79.11" fill="#1640A8"/>
<rect x="195.01" y="2360.04" width="13.83" height="88.76" fill="#FFA500"/>
<rect x="210.83" y="2338.87" width="13.83" height="109.93" fill="#1640A8"/>
<rect x="233.98" y="2355.21" width="13.83" height="93.59" fill="#FFA500"/>
<rect x="249.8" y="2332.19" width="13.83" height="116.61" fill="#1640A8"/>
<rect x="272.95" y="2360.04" width="13.83" height="88.76" fill="#FFA500"/>
<rect x="288.77" y="2328.84" width="13.83" height="119.96" fill="#1640A8"/>
<rect x="311.92" y="2367.1" width="13.83" height="81.7" fill="#FFA500"/>
<rect x="327.74" y="2320.3" width="13.83" height="128.5" fill="#1640A8"/>
<rect x="350.89" y="2372.66" width="13.83" height="76.14" fill="#FFA500"/>
<rect x="366.71" y="2325.87" width="13.83" height="122.93" fill="#1640A8"/>
<rect x="389.86" y="2385.67" width="13.83" height="63.13" fill="#FFA500"/>
<rect x="405.68" y="2337.02" width="13.83" height="111.78" fill="#1640A8"/>
<rect x="428.83" y="2400.89" width="13.83" height="47.91" fill="#FFA500"/>
<rect x="444.65" y="2350.38" width="13.83" height="98.42" fill="#1640A8"/>
<rect x="467.8" y="2407.89" width="13.83" height="40.91" fill="#FFA500"/>
<rect x="483.62" y="2364.1" width="13.83" height="84.7" fill="#1640A8"/>
<rect x="506.77" y="2417.38" width="13.83" height="31.42" fill="#FFA500"/>
<rect x="522.59" y="2381.03" width="13.83" height="67.77" fill="#1640A8"/>
<rect x="545.74" y="2425.24" width="13.83" height="23.56" fill="#FFA500"/>
<rect x="561.56" y="2400.45" width="13.83" height="48.35" fill="#1640A8"/>
<rect x="584.71" y="2433.5" width="13.83" height="15.3" fill="#FFA500"/>
<rect x="600.53" y="2414.09" width="13.83" height="34.71" fill="#1640A8"/>
<rect x="623.68" y="2440.95" width="13.83" height="7.85" fill="#FFA500"/>
<rect x="639.5" y="2428.57" width="13.83" height="20.23" fill="#1640A8"/>
<rect x="662.65" y="2444.65" width="13.83" height="4.15" fill="#FFA500"/>
<rect x="678.47" y="2438.46" width="13.83" height="10.34" fill="#1640A8"/>
<rect x="701.62" y="2447.16" width="13.83" height="1.64" fill="#FFA500"/>
<rect x="717.44" y="2443.02" width="13.83" height="5.78" fill="#1640A8"/>
<rect x="740.59" y="2448.25" width="13.83" height="0.55" fill="#FFA500"/>
<rect x="756.41" y="2446.35" width="13.83" height="2.45" fill="#1640A8"/>
<rect x="779.56" y="2448.5" width="13.83" height="0.3" fill="#FFA500"/>
<rect x="795.38" y="2448.12" width="13.83" height="0.68" fill="#1640A8"/>
<rect x="818.53" y="2448.5" width="13.83" height="0.3" fill="#FFA500"/>
<rect x="834.35" y="2448.5" width="13.83" height="0.3" fill="#1640A8"/>
<path d="M131.9,2448.8 L170.87,2447.03 L209.84,2446.14 L248.81,2445.79 L287.78,2445.61 L326.75,2445.43 L365.72,2445.43 L404.69,2445.43 L443.66,2445.61 L482.63,2445.79 L521.6,2446.14 L560.57,2446.5 L599.54,2446.85 L638.51,2447.03 L677.48,2447.38 L716.45,2447.74 L755.42,2448.09 L794.39,2448.45 L833.36,2448.8 L833.36,2448.8 L794.39,2448.62 L755.42,2448.45 L716.45,2448.27 L677.48,2448.09 L638.51,2447.91 L599.54,2447.83 L560.57,2447.65 L521.6,2447.47 L482.63,2447.29 L443.66,2447.2 L404.69,2447.12 L365.72,2447.12 L326.75,2447.12 L287.78,2447.2 L248.81,2447.29 L209.84,2447.47 L170.87,2447.91 L131.9,2448.8Z" fill="#808080" fill-opacity="0.4"/>
<path d="M123.99,2411.3V2448.8M121.46,2411.3H126.52M121.46,2448.8H126.52M139.81,2404.98V2445.83M137.28,2404.98H142.34M137.28,2445.83H142.34M162.96,2291.34V2445.83M160.43,2291.34H165.49M160.43,2445.83H165.49M178.78,2250.49V2444.71M176.25,2250.49H181.31M176.25,2444.71H181.31M201.93,2233.78V2441M199.4,2233.78H204.46M199.4,2441H204.46M217.75,2179.18V2439.15M215.22,2179.18H220.28M215.22,2439.15H220.28M240.9,2225.6V2439.15M238.37,2225.6H243.43M238.37,2439.15H243.43M256.72,2171V2436.56M254.19,2171H259.25M254.19,2436.56H259.25M279.87,2240.84V2440.26M277.34,2240.84H282.4M277.34,2440.26H282.4M295.69,2169.15V2437.29M293.16,2169.15H298.22M293.16,2437.29H298.22M318.84,2265.71V2439.15M316.31,2265.71H321.37M316.31,2439.15H321.37M334.66,2158.76V2432.82M332.13,2158.76H337.19M332.13,2432.82H337.19M357.81,2283.16V2436.56M355.28,2283.16H360.34M355.28,2436.56H360.34M373.63,2179.18V2429.85M371.1,2179.18H376.16M371.1,2429.85H376.16M396.78,2308.06V2437.29M394.25,2308.06H399.31M394.25,2437.29H399.31M412.6,2197.75V2429.85M410.07,2197.75H415.13M410.07,2429.85H415.13M435.75,2346.29V2439.88M433.22,2346.29H438.28M433.22,2439.88H438.28M451.57,2237.13V2430.61M449.04,2237.13H454.1M449.04,2430.61H454.1M474.72,2362.44V2440.54M472.19,2362.44H477.25M472.19,2440.54H477.25M490.54,2266.99V2432.27M488.01,2266.99H493.07M488.01,2432.27H493.07M513.69,2381.85V2441.76M511.16,2381.85H516.22M511.16,2441.76H516.22M529.51,2301.3V2434.35M526.98,2301.3H532.04M526.98,2434.35H532.04M552.66,2398.41V2442.61M550.13,2398.41H555.19M550.13,2442.61H555.19M568.48,2347.57V2436.83M565.95,2347.57H571.01M565.95,2436.83H571.01M591.63,2416.16V2444.65M589.1,2416.16H594.16M589.1,2444.65H594.16M607.45,2376.07V2439.72M604.92,2376.07H609.98M604.92,2439.72H609.98M630.6,2431.02V2446.73M628.07,2431.02H633.13M628.07,2446.73H633.13M646.42,2404.6V2443.02M643.89,2404.6H648.95M643.89,2443.02H648.95M669.57,2438.46V2447.98M667.04,2438.46H672.1M667.04,2447.98H672.1M685.39,2426.08V2445.91M682.86,2426.08H687.92M682.86,2445.91H687.92M708.54,2443.89V2448.53M706.01,2443.89H711.07M706.01,2448.53H711.07M724.36,2435.57V2447.44M721.83,2435.57H726.89M721.83,2447.44H726.89M747.51,2447.16V2448.72M744.98,2447.16H750.04M744.98,2448.72H750.04M763.33,2443.02V2448.25M760.8,2443.02H765.86M760.8,2448.25H765.86M786.48,2448.25V2448.8M783.95,2448.25H789.01M783.95,2448.8H789.01M802.3,2447.16V2448.66M799.77,2447.16H804.83M799.77,2448.66H804.83M825.45,2448.66V2448.8M822.92,2448.66H827.98M822.92,2448.8H827.98M841.27,2448.39V2448.77M838.74,2448.39H843.8M838.74,2448.77H843.8" stroke="#111" stroke-width="1.35" fill="none"/>
<path d="M131.9,2448.8 L170.87,2447.5 L209.84,2446.86 L248.81,2446.6 L287.78,2446.47 L326.75,2446.34 L365.72,2446.34 L404.69,2446.34 L443.66,2446.47 L482.63,2446.6 L521.6,2446.86 L560.57,2447.12 L599.54,2447.38 L638.51,2447.5 L677.48,2447.76 L716.45,2448.02 L755.42,2448.28 L794.39,2448.54 L833.36,2448.8" stroke="#E39A1B" stroke-width="1.2" fill="none" stroke-linejoin="round"/>
<path d="M131.9,2448.8 L170.87,2447.44 L209.84,2446.75 L248.81,2446.48 L287.78,2446.35 L326.75,2446.21 L365.72,2446.21 L404.69,2446.21 L443.66,2446.35 L482.63,2446.48 L521.6,2446.75 L560.57,2447.03 L599.54,2447.3 L638.51,2447.44 L677.48,2447.71 L716.45,2447.98 L755.42,2448.25 L794.39,2448.53 L833.36,2448.8" stroke="#2D4C98" stroke-width="3.1040740740740738" fill="none" stroke-linejoin="round"/>
<text x="101.3" y="2452.9" text-anchor="end" font-size="11.56" fill="#4D4D4D">0e+00</text>
<text x="863.4" y="2452.9" font-size="11.56" fill="#4D4D4D">0</text>
<text x="101.3" y="2371.09" text-anchor="end" font-size="11.56" fill="#4D4D4D">3e+06</text>
<text x="863.4" y="2371.09" font-size="11.56" fill="#4D4D4D">30000</text>
<text x="101.3" y="2289.28" text-anchor="end" font-size="11.56" fill="#4D4D4D">6e+06</text>
<text x="863.4" y="2289.28" font-size="11.56" fill="#4D4D4D">60000</text>
<text x="101.3" y="2207.47" text-anchor="end" font-size="11.56" fill="#4D4D4D">9e+06</text>
<text x="863.4" y="2207.47" font-size="11.56" fill="#4D4D4D">90000</text>
<text x="131.9" y="2478.5" text-anchor="middle" font-size="11.56" fill="#4D4D4D">05−9</text>
<text x="170.87" y="2478.5" text-anchor="middle" font-size="11.56" fill="#4D4D4D">10−14</text>
<text x="209.84" y="2478.5" text-anchor="middle" font-size="11.56" fill="#4D4D4D">15−19</text>
<text x="248.81" y="2478.5" text-anchor="middle" font-size="11.56" fill="#4D4D4D">20−24</text>
<text x="287.78" y="2478.5" text-anchor="middle" font-size="11.56" fill="#4D4D4D">25−29</text>
<text x="326.75" y="2478.5" text-anchor="middle" font-size="11.56" fill="#4D4D4D">30−34</text>
<text x="365.72" y="2478.5" text-anchor="middle" font-size="11.56" fill="#4D4D4D">35−39</text>
<text x="404.69" y="2478.5" text-anchor="middle" font-size="11.56" fill="#4D4D4D">40−44</text>
<text x="443.66" y="2478.5" text-anchor="middle" font-size="11.56" fill="#4D4D4D">45−49</text>
<text x="482.63" y="2478.5" text-anchor="middle" font-size="11.56" fill="#4D4D4D">50−54</text>
<text x="521.6" y="2478.5" text-anchor="middle" font-size="11.56" fill="#4D4D4D">55−59</text>
<text x="560.57" y="2478.5" text-anchor="middle" font-size="11.56" fill="#4D4D4D">60−64</text>
<text x="599.54" y="2478.5" text-anchor="middle" font-size="11.56" fill="#4D4D4D">65−69</text>
<text x="638.51" y="2478.5" text-anchor="middle" font-size="11.56" fill="#4D4D4D">70−74</text>
<text x="677.48" y="2478.5" text-anchor="middle" font-size="11.56" fill="#4D4D4D">75−79</text>
<text x="716.45" y="2478.5" text-anchor="middle" font-size="11.56" fill="#4D4D4D">80−84</text>
<text x="755.42" y="2478.5" text-anchor="middle" font-size="11.56" fill="#4D4D4D">85−89</text>
<text x="794.39" y="2478.5" text-anchor="middle" font-size="11.56" fill="#4D4D4D">90−94</text>
<text x="833.36" y="2478.5" text-anchor="middle" font-size="11.56" fill="#4D4D4D">95+</text>
<text x="482.5" y="2495.43" text-anchor="middle" font-size="14.45" fill="#000">Year</text>
<text transform="translate(62.83,2304) rotate(-90)" text-anchor="middle" font-size="14.45" fill="#000">DALYs Number</text>
<text transform="translate(900.67,2304.5) rotate(90)" text-anchor="middle" font-size="14.45" fill="#000">Crude DALYs rate per 100,000</text>
<text x="396.2" y="2106.1" style='font-family:"Liberation Serif", serif' font-size="25" fill="#000">Globally</text>
<text x="936.3" y="2234.13" font-size="14.45" fill="#000">Number</text>
<rect x="936.3" y="2243.8" width="21.8" height="21.4" fill="#FFA500"/>
<rect x="936.3" y="2267.3" width="21.8" height="21.6" fill="#1640A8"/>
<text x="967.2" y="2258.8" font-size="11.56" fill="#000">1990</text>
<text x="967.2" y="2282.8" font-size="11.56" fill="#000">2021</text>
<text x="936.3" y="2331.73" font-size="14.45" fill="#000">Rate</text>
<line x1="938.2" y1="2351.6" x2="956.8" y2="2351.6" stroke="#FFA500" stroke-width="2.64"/>
<line x1="938.2" y1="2375.1" x2="956.8" y2="2375.1" stroke="#1A3FA0" stroke-width="2.64"/>
<text x="967.2" y="2355.7" font-size="11.56" fill="#000">1990</text>
<text x="967.2" y="2379.2" font-size="11.56" fill="#000">2021</text></g>
<text x="3.8" y="24.7" style='font-family:"Liberation Serif", serif' font-size="31" fill="#000">A</text>
<text x="3.8" y="902.1" style='font-family:"Liberation Serif", serif' font-size="31" fill="#000">B</text>
<text x="3.3" y="1680.6" style='font-family:"Liberation Serif", serif' font-size="31" fill="#000">C</text>
</svg>
</body></html>
